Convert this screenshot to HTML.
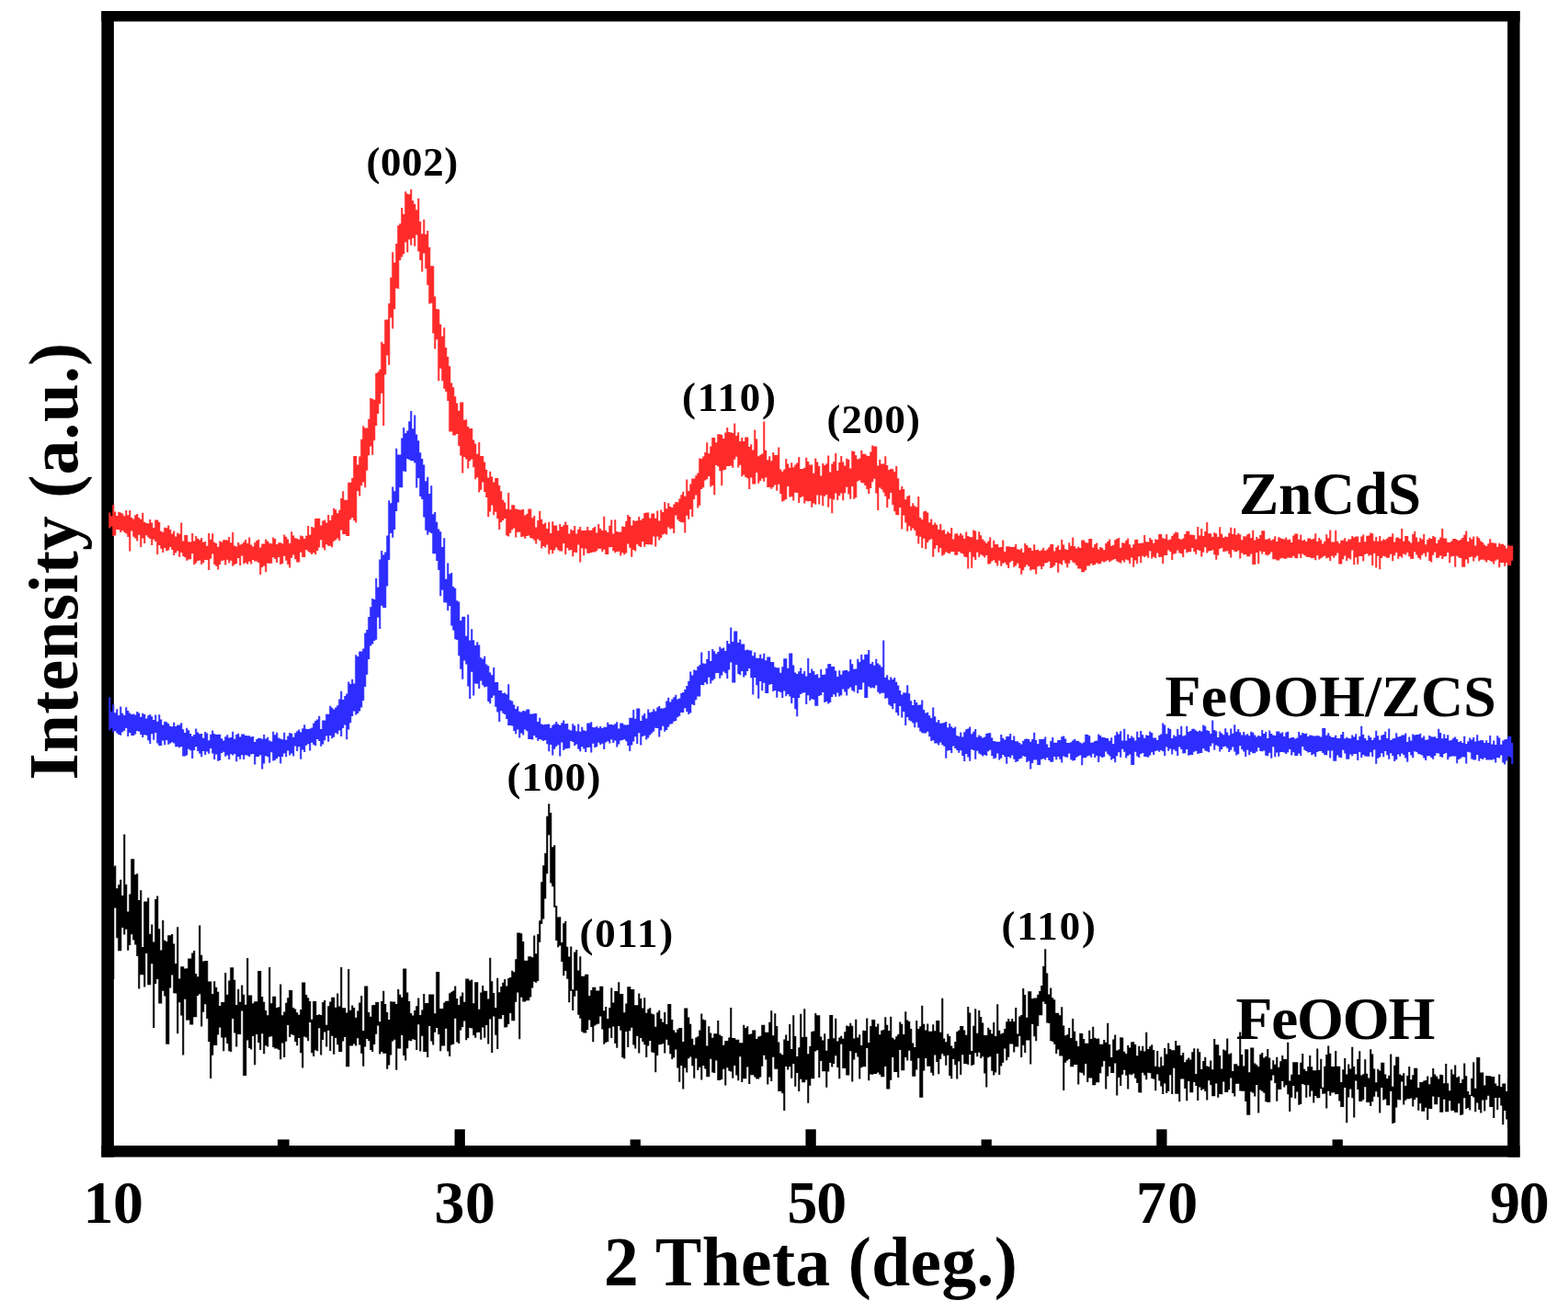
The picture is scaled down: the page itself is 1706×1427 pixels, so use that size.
<!DOCTYPE html>
<html><head><meta charset="utf-8"><title>XRD patterns</title>
<style>html,body{margin:0;padding:0;background:#fff;} svg{display:block;}</style></head>
<body>
<svg width="1706" height="1427" viewBox="0 0 1706 1427">
<rect x="0" y="0" width="1706" height="1427" fill="#fff"/>
<g fill="#000">
<rect x="110.4" y="12" width="1543.2" height="11.4"/>
<rect x="110.4" y="12" width="13.5" height="1246.5"/>
<rect x="1640.2" y="12" width="13.4" height="1246.5"/>
<rect x="110.4" y="1246" width="1543.2" height="12.5"/>
<rect x="302.1" y="1239.4" width="12.6" height="8"/>
<rect x="494.6" y="1228.3" width="11.3" height="19"/>
<rect x="685.6" y="1239.4" width="11.3" height="8"/>
<rect x="876.5" y="1228.3" width="11.3" height="19"/>
<rect x="1067.6" y="1239.4" width="11.3" height="8"/>
<rect x="1258.3" y="1228.3" width="11.3" height="19"/>
<rect x="1449.6" y="1239.4" width="11.3" height="8"/>
</g>
<path d="M118.3 574.4V557.4H120.3V561.2H122.3V549.1H124.3V556.4H126.3V561.0H128.3V556.7H130.3V557.6H132.3V558.4H134.3V561.2H136.3V555.1H138.3V560.3H140.3V555.0H142.3V562.9H144.3V564.4H146.3V560.3H148.3V559.1H150.3V563.0H152.3V564.7H154.3V557.8H156.3V567.8H158.3V569.1H160.3V569.3H162.3V565.1H164.3V568.5H166.3V574.1H168.3V565.5H170.3V565.5H172.3V568.1H174.3V577.7H176.3V578.7H178.3V573.8H180.3V574.3H182.3V571.4H184.3V576.1H186.3V580.4H188.3V577.6H190.3V583.4H192.3V579.4H194.3V580.7H196.3V568.5H198.3V588.4H200.3V581.9H202.3V581.9H204.3V589.2H206.3V589.5H208.3V580.1H210.3V588.6H212.3V583.1H214.3V585.8H216.3V587.3H218.3V585.1H220.3V589.8H222.3V588.9H224.3V593.8H226.3V580.1H228.3V586.7H230.3V580.3H232.3V589.7H234.3V590.9H236.3V594.7H238.3V588.6H240.3V589.4H242.3V587.2H244.3V587.2H246.3V587.4H248.3V584.0H250.3V590.3H252.3V579.1H254.3V593.5H256.3V594.5H258.3V590.0H260.3V592.6H262.3V591.6H264.3V589.5H266.3V587.0H268.3V591.0H270.3V584.5H272.3V592.4H274.3V594.4H276.3V590.3H278.3V588.0H280.3V586.8H282.3V595.6H284.3V591.6H286.3V591.4H288.3V586.4H290.3V588.5H292.3V590.7H294.3V591.2H296.3V584.4H298.3V585.9H300.3V592.0H302.3V590.3H304.3V590.3H306.3V591.3H308.3V581.6H310.3V583.8H312.3V586.6H314.3V591.1H316.3V578.3H318.3V582.4H320.3V585.3H322.3V585.7H324.3V586.8H326.3V582.4H328.3V583.3H330.3V585.9H332.3V582.7H334.3V572.0H336.3V581.8H338.3V573.1H340.3V573.7H342.3V564.0H344.3V564.0H346.3V563.8H348.3V571.4H350.3V566.4H352.3V565.6H354.3V568.4H356.3V560.0H358.3V565.9H360.3V560.4H362.3V552.8H364.3V554.3H366.3V558.2H368.3V554.7H370.3V542.0H372.3V534.2H374.3V543.8H376.3V543.8H378.3V524.7H380.3V524.7H382.3V520.1H384.3V496.0H386.3V496.0H388.3V505.5H390.3V496.4H392.3V477.8H394.3V463.3H396.3V465.6H398.3V465.6H400.3V455.7H402.3V433.0H404.3V433.7H406.3V434.8H408.3V406.0H410.3V404.5H412.3V401.7H414.3V371.8H416.3V373.7H418.3V347.7H420.3V347.5H422.3V330.1H424.3V301.8H426.3V274.2H428.3V285.4H430.3V264.9H432.3V245.2H434.3V243.2H436.3V226.1H438.3V233.0H440.3V208.2H442.3V210.7H444.3V211.3H446.3V206.0H448.3V218.2H450.3V221.9H452.3V228.2H454.3V215.7H456.3V241.1H458.3V254.2H460.3V238.8H462.3V254.8H464.3V251.1H466.3V268.9H468.3V289.2H470.3V289.2H472.3V322.6H474.3V335.9H476.3V336.6H478.3V352.8H480.3V365.7H482.3V356.2H484.3V377.9H486.3V388.0H488.3V398.3H490.3V416.6H492.3V421.2H494.3V431.2H496.3V438.4H498.3V446.8H500.3V437.4H502.3V437.4H504.3V457.0H506.3V456.3H508.3V464.1H510.3V466.0H512.3V465.9H514.3V478.5H516.3V482.6H518.3V493.8H520.3V481.0H522.3V495.9H524.3V495.9H526.3V502.4H528.3V511.1H530.3V519.4H532.3V512.8H534.3V518.6H536.3V524.4H538.3V519.9H540.3V520.0H542.3V528.0H544.3V534.3H546.3V543.8H548.3V546.5H550.3V553.8H552.3V536.0H554.3V554.2H556.3V549.3H558.3V549.3H560.3V553.5H562.3V553.9H564.3V554.5H566.3V554.6H568.3V554.0H570.3V560.6H572.3V559.0H574.3V553.6H576.3V553.6H578.3V563.2H580.3V561.0H582.3V573.5H584.3V566.0H586.3V555.8H588.3V564.7H590.3V570.1H592.3V568.4H594.3V574.9H596.3V567.7H598.3V580.1H600.3V567.3H602.3V571.5H604.3V571.5H606.3V577.3H608.3V570.1H610.3V572.9H612.3V571.2H614.3V567.6H616.3V571.0H618.3V580.5H620.3V575.7H622.3V577.0H624.3V571.9H626.3V580.6H628.3V575.8H630.3V572.9H632.3V576.9H634.3V577.1H636.3V577.1H638.3V573.1H640.3V576.7H642.3V576.7H644.3V574.2H646.3V573.0H648.3V579.4H650.3V570.0H652.3V574.9H654.3V576.9H656.3V561.7H658.3V577.1H660.3V579.0H662.3V571.7H664.3V565.5H666.3V580.6H668.3V565.3H670.3V578.1H672.3V578.8H674.3V578.6H676.3V572.5H678.3V573.0H680.3V566.8H682.3V559.9H684.3V562.0H686.3V571.4H688.3V566.0H690.3V566.7H692.3V566.2H694.3V562.1H696.3V565.7H698.3V564.0H700.3V558.1H702.3V557.6H704.3V557.6H706.3V563.5H708.3V558.5H710.3V558.5H712.3V563.7H714.3V555.6H716.3V566.4H718.3V554.6H720.3V557.1H722.3V546.0H724.3V553.2H726.3V547.3H728.3V551.1H730.3V552.0H732.3V548.6H734.3V545.9H736.3V546.2H738.3V542.5H740.3V538.2H742.3V534.8H744.3V539.8H746.3V521.6H748.3V534.1H750.3V526.4H752.3V520.4H754.3V520.6H756.3V517.2H758.3V514.6H760.3V498.6H762.3V499.1H764.3V496.6H766.3V492.0H768.3V481.3H770.3V493.2H772.3V485.6H774.3V476.1H776.3V476.1H778.3V481.3H780.3V472.3H782.3V472.3H784.3V473.1H786.3V476.9H788.3V470.4H790.3V465.0H792.3V469.9H794.3V470.3H796.3V470.9H798.3V460.4H800.3V473.9H802.3V470.3H804.3V480.0H806.3V475.9H808.3V479.9H810.3V475.6H812.3V475.6H814.3V486.1H816.3V483.3H818.3V489.6H820.3V467.5H822.3V477.5H824.3V496.2H826.3V494.8H828.3V493.6H830.3V458.5H832.3V489.7H834.3V500.2H836.3V496.2H838.3V501.3H840.3V492.1H842.3V495.1H844.3V495.1H846.3V486.6H848.3V510.5H850.3V512.7H852.3V510.6H854.3V499.0H856.3V504.6H858.3V508.8H860.3V503.2H862.3V508.3H864.3V505.5H866.3V503.5H868.3V497.1H870.3V510.0H872.3V510.0H874.3V508.7H876.3V497.7H878.3V502.0H880.3V505.4H882.3V505.4H884.3V514.8H886.3V498.6H888.3V502.5H890.3V507.0H892.3V517.5H894.3V503.9H896.3V505.9H898.3V504.2H900.3V495.6H902.3V513.4H904.3V504.5H906.3V502.0H908.3V492.9H910.3V512.1H912.3V503.1H914.3V496.0H916.3V502.4H918.3V506.5H920.3V498.7H922.3V499.7H924.3V509.6H926.3V490.5H928.3V491.0H930.3V495.3H932.3V499.5H934.3V498.6H936.3V489.7H938.3V493.8H940.3V493.8H942.3V495.5H944.3V495.9H946.3V491.4H948.3V484.6H950.3V485.4H952.3V485.4H954.3V506.6H956.3V499.9H958.3V504.4H960.3V504.5H962.3V496.3H964.3V505.9H966.3V511.1H968.3V509.8H970.3V510.2H972.3V513.0H974.3V506.9H976.3V520.3H978.3V532.7H980.3V529.1H982.3V532.0H984.3V543.2H986.3V539.8H988.3V538.8H990.3V550.8H992.3V547.3H994.3V550.2H996.3V551.5H998.3V540.1H1000.3V562.9H1002.3V565.0H1004.3V556.2H1006.3V555.7H1008.3V557.4H1010.3V568.2H1012.3V564.5H1014.3V570.8H1016.3V568.5H1018.3V570.7H1020.3V575.9H1022.3V570.0H1024.3V576.7H1026.3V576.2H1028.3V580.8H1030.3V578.3H1032.3V580.1H1034.3V574.1H1036.3V586.6H1038.3V580.4H1040.3V580.2H1042.3V582.5H1044.3V580.1H1046.3V582.3H1048.3V585.8H1050.3V578.5H1052.3V583.1H1054.3V584.0H1056.3V584.2H1058.3V576.6H1060.3V577.4H1062.3V586.9H1064.3V578.3H1066.3V582.2H1068.3V586.5H1070.3V588.4H1072.3V590.7H1074.3V588.5H1076.3V584.3H1078.3V595.8H1080.3V587.8H1082.3V592.0H1084.3V592.0H1086.3V595.3H1088.3V595.1H1090.3V587.5H1092.3V600.1H1094.3V594.2H1096.3V594.2H1098.3V594.7H1100.3V595.1H1102.3V594.7H1104.3V591.8H1106.3V597.2H1108.3V598.0H1110.3V596.4H1112.3V601.1H1114.3V591.0H1116.3V593.1H1118.3V595.5H1120.3V595.9H1122.3V599.1H1124.3V592.2H1126.3V598.3H1128.3V597.8H1130.3V599.2H1132.3V598.3H1134.3V595.7H1136.3V599.0H1138.3V597.6H1140.3V595.2H1142.3V591.9H1144.3V591.9H1146.3V599.5H1148.3V595.2H1150.3V593.3H1152.3V598.1H1154.3V587.1H1156.3V592.6H1158.3V597.2H1160.3V598.0H1162.3V590.2H1164.3V593.7H1166.3V584.4H1168.3V594.2H1170.3V596.4H1172.3V594.4H1174.3V595.9H1176.3V587.5H1178.3V587.6H1180.3V589.9H1182.3V590.4H1184.3V586.0H1186.3V586.0H1188.3V595.5H1190.3V591.9H1192.3V590.6H1194.3V597.6H1196.3V594.9H1198.3V596.0H1200.3V598.2H1202.3V590.9H1204.3V589.0H1206.3V586.4H1208.3V593.8H1210.3V592.7H1212.3V587.3H1214.3V585.9H1216.3V584.9H1218.3V595.7H1220.3V590.2H1222.3V590.7H1224.3V587.8H1226.3V585.5H1228.3V592.3H1230.3V595.7H1232.3V592.3H1234.3V587.1H1236.3V586.8H1238.3V591.0H1240.3V590.7H1242.3V590.6H1244.3V582.1H1246.3V589.2H1248.3V589.5H1250.3V585.1H1252.3V587.0H1254.3V590.8H1256.3V586.5H1258.3V587.1H1260.3V581.1H1262.3V581.1H1264.3V585.3H1266.3V585.9H1268.3V581.3H1270.3V587.2H1272.3V586.6H1274.3V583.1H1276.3V580.6H1278.3V578.6H1280.3V579.2H1282.3V585.9H1284.3V586.8H1286.3V585.5H1288.3V581.1H1290.3V577.8H1292.3V577.8H1294.3V581.5H1296.3V581.7H1298.3V582.0H1300.3V586.6H1302.3V572.9H1304.3V582.5H1306.3V575.0H1308.3V582.9H1310.3V577.9H1312.3V568.1H1314.3V580.2H1316.3V580.2H1318.3V584.1H1320.3V579.2H1322.3V580.2H1324.3V584.1H1326.3V573.2H1328.3V580.8H1330.3V584.8H1332.3V583.5H1334.3V584.0H1336.3V579.7H1338.3V573.7H1340.3V581.1H1342.3V574.6H1344.3V581.8H1346.3V580.1H1348.3V581.2H1350.3V587.2H1352.3V583.3H1354.3V583.5H1356.3V581.3H1358.3V580.3H1360.3V585.1H1362.3V576.8H1364.3V587.6H1366.3V583.9H1368.3V586.1H1370.3V582.0H1372.3V577.3H1374.3V577.3H1376.3V586.8H1378.3V586.2H1380.3V585.6H1382.3V587.7H1384.3V586.6H1386.3V583.3H1388.3V589.0H1390.3V584.2H1392.3V585.3H1394.3V585.9H1396.3V586.6H1398.3V584.5H1400.3V587.2H1402.3V586.4H1404.3V590.1H1406.3V582.5H1408.3V580.6H1410.3V580.6H1412.3V586.8H1414.3V581.5H1416.3V588.0H1418.3V587.1H1420.3V588.9H1422.3V585.4H1424.3V585.6H1426.3V586.8H1428.3V585.7H1430.3V580.3H1432.3V589.0H1434.3V585.0H1436.3V587.2H1438.3V591.4H1440.3V588.7H1442.3V581.2H1444.3V585.2H1446.3V576.5H1448.3V589.5H1450.3V589.6H1452.3V576.8H1454.3V588.7H1456.3V591.0H1458.3V587.7H1460.3V587.4H1462.3V585.2H1464.3V588.9H1466.3V586.4H1468.3V586.4H1470.3V583.0H1472.3V584.4H1474.3V583.6H1476.3V583.6H1478.3V589.7H1480.3V583.4H1482.3V581.5H1484.3V589.3H1486.3V582.7H1488.3V582.4H1490.3V579.6H1492.3V580.3H1494.3V588.4H1496.3V584.0H1498.3V588.8H1500.3V583.1H1502.3V588.3H1504.3V586.5H1506.3V587.3H1508.3V585.4H1510.3V583.7H1512.3V583.8H1514.3V580.2H1516.3V589.5H1518.3V584.8H1520.3V584.5H1522.3V586.0H1524.3V574.9H1526.3V588.7H1528.3V583.1H1530.3V583.0H1532.3V588.5H1534.3V590.4H1536.3V581.1H1538.3V577.9H1540.3V584.6H1542.3V589.2H1544.3V584.9H1546.3V586.6H1548.3V581.0H1550.3V592.2H1552.3V587.1H1554.3V585.1H1556.3V586.1H1558.3V583.0H1560.3V584.2H1562.3V591.1H1564.3V587.2H1566.3V584.4H1568.3V574.9H1570.3V585.4H1572.3V585.4H1574.3V589.7H1576.3V589.9H1578.3V588.4H1580.3V586.0H1582.3V585.9H1584.3V586.9H1586.3V588.1H1588.3V586.7H1590.3V585.0H1592.3V581.7H1594.3V577.5H1596.3V588.9H1598.3V584.4H1600.3V586.4H1602.3V583.5H1604.3V593.5H1606.3V583.5H1608.3V585.3H1610.3V588.5H1612.3V590.0H1614.3V592.5H1616.3V594.1H1618.3V591.3H1620.3V586.2H1622.3V590.2H1624.3V590.5H1626.3V590.9H1628.3V594.7H1630.3V590.8H1632.3V592.0H1634.3V591.7H1636.3V593.6H1638.3V596.4H1640.3V592.7H1642.3V593.8H1644.3V593.5H1646.3V609.8H1644.3V615.1H1642.3V614.9H1640.3V612.3H1638.3V615.8H1636.3V611.9H1634.3V611.9H1632.3V617.2H1630.3V608.4H1628.3V609.7H1626.3V613.5H1624.3V611.0H1622.3V610.0H1620.3V609.0H1618.3V611.6H1616.3V609.5H1614.3V608.6H1612.3V608.7H1610.3V610.3H1608.3V604.6H1606.3V606.4H1604.3V610.5H1602.3V605.6H1600.3V606.0H1598.3V612.7H1596.3V608.4H1594.3V616.7H1592.3V616.7H1590.3V607.0H1588.3V606.6H1586.3V604.8H1584.3V616.7H1582.3V604.7H1580.3V605.6H1578.3V612.3H1576.3V600.9H1574.3V604.9H1572.3V605.4H1570.3V608.0H1568.3V604.3H1566.3V606.4H1564.3V606.9H1562.3V600.5H1560.3V603.7H1558.3V611.6H1556.3V609.9H1554.3V600.4H1552.3V605.4H1550.3V601.8H1548.3V603.8H1546.3V608.5H1544.3V606.7H1542.3V603.5H1540.3V600.2H1538.3V607.7H1536.3V608.0H1534.3V605.2H1532.3V601.0H1530.3V603.4H1528.3V602.6H1526.3V606.6H1524.3V605.1H1522.3V607.8H1520.3V601.1H1518.3V604.2H1516.3V610.2H1514.3V602.7H1512.3V606.6H1510.3V606.9H1508.3V605.6H1506.3V604.8H1504.3V607.1H1502.3V619.2H1500.3V604.7H1498.3V617.6H1496.3V601.8H1494.3V614.9H1492.3V603.8H1490.3V604.5H1488.3V602.1H1486.3V603.0H1484.3V610.3H1482.3V605.0H1480.3V605.0H1478.3V613.7H1476.3V606.3H1474.3V614.2H1472.3V598.5H1470.3V608.4H1468.3V607.0H1466.3V610.1H1464.3V604.4H1462.3V608.2H1460.3V613.4H1458.3V613.4H1456.3V601.5H1454.3V604.3H1452.3V606.7H1450.3V604.5H1448.3V610.0H1446.3V606.6H1444.3V607.2H1442.3V604.6H1440.3V605.7H1438.3V607.3H1436.3V608.6H1434.3V604.1H1432.3V609.2H1430.3V606.7H1428.3V607.3H1426.3V606.2H1424.3V606.0H1422.3V605.6H1420.3V604.1H1418.3V602.4H1416.3V606.9H1414.3V602.5H1412.3V607.3H1410.3V606.9H1408.3V604.8H1406.3V606.7H1404.3V606.7H1402.3V606.5H1400.3V607.7H1398.3V607.7H1396.3V606.7H1394.3V607.6H1392.3V609.6H1390.3V609.6H1388.3V608.2H1386.3V608.2H1384.3V600.6H1382.3V602.7H1380.3V604.3H1378.3V603.6H1376.3V600.0H1374.3V602.5H1372.3V599.5H1370.3V613.2H1368.3V601.0H1366.3V614.0H1364.3V614.0H1362.3V602.6H1360.3V605.2H1358.3V605.2H1356.3V603.1H1354.3V603.3H1352.3V601.6H1350.3V607.5H1348.3V598.8H1346.3V600.2H1344.3V599.7H1342.3V598.1H1340.3V606.4H1338.3V602.5H1336.3V599.2H1334.3V599.7H1332.3V599.9H1330.3V596.0H1328.3V597.0H1326.3V604.0H1324.3V608.7H1322.3V603.3H1320.3V598.2H1318.3V599.1H1316.3V599.6H1314.3V601.4H1312.3V595.2H1310.3V600.8H1308.3V605.6H1306.3V599.1H1304.3V597.9H1302.3V602.7H1300.3V599.9H1298.3V595.9H1296.3V600.3H1294.3V600.3H1292.3V601.2H1290.3V597.5H1288.3V606.0H1286.3V602.2H1284.3V601.5H1282.3V598.4H1280.3V601.8H1278.3V602.8H1276.3V609.1H1274.3V600.1H1272.3V598.2H1270.3V604.0H1268.3V604.0H1266.3V613.0H1264.3V605.7H1262.3V606.0H1260.3V601.6H1258.3V607.0H1256.3V605.6H1254.3V607.5H1252.3V599.3H1250.3V606.7H1248.3V604.4H1246.3V606.0H1244.3V604.8H1242.3V612.3H1240.3V605.2H1238.3V613.2H1236.3V609.5H1234.3V616.7H1232.3V606.4H1230.3V613.0H1228.3V609.5H1226.3V608.5H1224.3V611.4H1222.3V609.4H1220.3V612.6H1218.3V611.4H1216.3V610.6H1214.3V608.0H1212.3V608.8H1210.3V609.7H1208.3V611.3H1206.3V609.3H1204.3V610.5H1202.3V611.6H1200.3V610.5H1198.3V612.9H1196.3V613.4H1194.3V612.2H1192.3V614.2H1190.3V614.7H1188.3V613.1H1186.3V615.6H1184.3V615.6H1182.3V620.3H1180.3V622.2H1178.3V622.2H1176.3V618.6H1174.3V618.6H1172.3V614.9H1170.3V612.5H1168.3V611.4H1166.3V609.3H1164.3V612.8H1162.3V617.2H1160.3V612.8H1158.3V609.4H1156.3V614.6H1154.3V612.9H1152.3V622.7H1150.3V612.1H1148.3V615.2H1146.3V617.1H1144.3V618.0H1142.3V610.7H1140.3V611.9H1138.3V612.6H1136.3V616.0H1134.3V619.0H1132.3V615.6H1130.3V616.3H1128.3V624.6H1126.3V619.4H1124.3V619.3H1122.3V620.4H1120.3V616.0H1118.3V614.3H1116.3V616.7H1114.3V620.3H1112.3V624.8H1110.3V618.1H1108.3V612.7H1106.3V615.3H1104.3V616.8H1102.3V610.0H1100.3V611.6H1098.3V618.1H1096.3V614.6H1094.3V611.8H1092.3V612.7H1090.3V615.8H1088.3V609.8H1086.3V615.5H1084.3V612.2H1082.3V609.2H1080.3V610.4H1078.3V613.2H1076.3V613.4H1074.3V604.0H1072.3V606.5H1070.3V604.6H1068.3V603.2H1066.3V605.9H1064.3V600.7H1062.3V608.9H1060.3V605.8H1058.3V617.8H1056.3V600.6H1054.3V618.4H1052.3V606.1H1050.3V605.5H1048.3V602.2H1046.3V601.4H1044.3V599.9H1042.3V603.7H1040.3V603.7H1038.3V600.1H1036.3V600.0H1034.3V602.1H1032.3V601.5H1030.3V600.5H1028.3V603.3H1026.3V604.4H1024.3V595.9H1022.3V600.8H1020.3V593.0H1018.3V596.7H1016.3V605.7H1014.3V586.2H1012.3V587.5H1010.3V590.1H1008.3V597.3H1006.3V585.7H1004.3V596.1H1002.3V583.8H1000.3V591.6H998.3V582.8H996.3V576.9H994.3V574.6H992.3V577.1H990.3V572.3H988.3V577.8H986.3V568.6H984.3V560.5H982.3V575.4H980.3V552.1H978.3V560.3H976.3V560.1H974.3V556.2H972.3V548.9H970.3V536.0H968.3V542.8H966.3V552.1H964.3V539.7H962.3V535.6H960.3V532.3H958.3V530.5H956.3V554.9H954.3V536.5H952.3V520.7H950.3V524.2H948.3V531.1H946.3V536.9H944.3V532.1H942.3V528.1H940.3V525.5H938.3V525.0H936.3V522.4H934.3V523.4H932.3V541.2H930.3V542.7H928.3V529.1H926.3V542.8H924.3V537.4H922.3V529.8H920.3V536.3H918.3V544.3H916.3V536.5H914.3V538.9H912.3V544.1H910.3V536.4H908.3V543.2H906.3V558.2H904.3V542.3H902.3V551.7H900.3V537.9H898.3V539.7H896.3V550.3H894.3V538.8H892.3V548.6H890.3V538.4H888.3V548.8H886.3V547.6H884.3V551.8H882.3V544.9H880.3V545.5H878.3V544.8H876.3V547.4H874.3V540.0H872.3V541.1H870.3V547.0H868.3V535.9H866.3V535.7H864.3V544.5H862.3V540.2H860.3V540.4H858.3V528.9H856.3V543.0H854.3V544.4H852.3V545.4H850.3V537.2H848.3V526.7H846.3V533.8H844.3V527.5H842.3V529.8H840.3V531.7H838.3V529.9H836.3V529.9H834.3V519.3H832.3V523.7H830.3V520.5H828.3V522.9H826.3V525.8H824.3V514.1H822.3V526.5H820.3V526.5H818.3V519.6H816.3V531.9H814.3V520.2H812.3V518.9H810.3V516.4H808.3V518.2H806.3V505.8H804.3V508.4H802.3V496.7H800.3V499.7H798.3V508.7H796.3V506.6H794.3V507.1H792.3V507.1H790.3V510.8H788.3V511.5H786.3V528.3H784.3V512.3H782.3V507.5H780.3V505.9H778.3V538.3H776.3V527.9H774.3V529.6H772.3V518.0H770.3V521.2H768.3V522.6H766.3V530.3H764.3V532.0H762.3V549.8H760.3V552.5H758.3V538.6H756.3V543.1H754.3V562.1H752.3V553.9H750.3V564.7H748.3V560.7H746.3V579.4H744.3V568.2H742.3V568.2H740.3V567.0H738.3V565.0H736.3V560.4H734.3V580.0H732.3V574.8H730.3V575.5H728.3V573.6H726.3V581.5H724.3V580.5H722.3V581.6H720.3V585.1H718.3V587.5H716.3V583.5H714.3V594.5H712.3V583.4H710.3V592.4H708.3V592.3H706.3V592.2H704.3V592.1H702.3V594.7H700.3V589.0H698.3V595.0H696.3V593.9H694.3V592.1H692.3V599.4H690.3V597.9H688.3V605.7H686.3V595.7H684.3V591.4H682.3V601.6H680.3V603.2H678.3V601.3H676.3V604.4H674.3V599.7H672.3V600.0H670.3V601.3H668.3V599.3H666.3V594.9H664.3V595.3H662.3V603.0H660.3V603.0H658.3V597.8H656.3V600.1H654.3V596.7H652.3V596.8H650.3V599.2H648.3V600.5H646.3V600.4H644.3V600.9H642.3V601.8H640.3V601.8H638.3V596.8H636.3V604.3H634.3V596.2H632.3V611.4H630.3V592.6H628.3V601.0H626.3V600.7H624.3V605.2H622.3V598.0H620.3V598.8H618.3V595.9H616.3V602.9H614.3V591.0H612.3V599.6H610.3V599.6H608.3V598.3H606.3V595.5H604.3V598.4H602.3V602.0H600.3V598.0H598.3V602.8H596.3V592.5H594.3V595.6H592.3V594.0H590.3V596.6H588.3V588.1H586.3V586.5H584.3V591.4H582.3V587.5H580.3V585.8H578.3V585.1H576.3V582.4H574.3V583.0H572.3V585.8H570.3V583.4H568.3V583.9H566.3V578.8H564.3V578.7H562.3V584.4H560.3V574.4H558.3V576.2H556.3V579.7H554.3V583.6H552.3V582.5H550.3V563.9H548.3V565.9H546.3V567.9H544.3V576.0H542.3V564.1H540.3V556.7H538.3V560.3H536.3V549.4H534.3V556.4H532.3V562.3H530.3V540.9H528.3V535.1H526.3V524.5H524.3V532.8H522.3V535.5H520.3V519.3H518.3V521.2H516.3V508.2H514.3V499.4H512.3V501.4H510.3V509.6H508.3V499.5H506.3V497.1H504.3V514.4H502.3V495.5H500.3V484.9H498.3V471.9H496.3V473.5H494.3V473.5H492.3V469.4H490.3V469.4H488.3V435.9H486.3V426.0H484.3V422.7H482.3V414.3H480.3V400.8H478.3V414.2H476.3V369.3H474.3V379.6H472.3V362.5H470.3V329.7H468.3V330.6H466.3V309.9H464.3V292.3H462.3V275.6H460.3V295.4H458.3V283.1H456.3V273.5H454.3V255.6H452.3V267.8H450.3V259.1H448.3V266.7H446.3V260.5H444.3V274.4H442.3V263.6H440.3V276.3H438.3V279.6H436.3V283.0H434.3V314.1H432.3V313.4H430.3V336.2H428.3V357.6H426.3V345.5H424.3V397.0H422.3V386.5H420.3V407.6H418.3V463.1H416.3V427.7H414.3V439.3H412.3V450.0H410.3V462.9H408.3V479.1H406.3V494.7H404.3V485.5H402.3V495.3H400.3V511.7H398.3V530.2H396.3V524.5H394.3V528.3H392.3V539.6H390.3V534.0H388.3V568.6H386.3V566.3H384.3V563.1H382.3V565.2H380.3V582.9H378.3V582.9H376.3V581.0H374.3V581.0H372.3V576.4H370.3V587.9H368.3V585.4H366.3V587.3H364.3V588.8H362.3V595.2H360.3V593.8H358.3V593.8H356.3V592.3H354.3V598.5H352.3V595.7H350.3V587.3H348.3V595.4H346.3V599.1H344.3V603.1H342.3V601.2H340.3V603.1H338.3V601.2H336.3V599.7H334.3V598.0H332.3V606.0H330.3V606.0H328.3V600.7H326.3V611.4H324.3V611.4H322.3V608.3H320.3V603.6H318.3V606.8H316.3V617.4H314.3V614.0H312.3V609.7H310.3V604.8H308.3V613.1H306.3V613.9H304.3V605.9H302.3V612.1H300.3V608.0H298.3V606.2H296.3V612.7H294.3V612.7H292.3V612.7H290.3V622.3H288.3V615.6H286.3V616.9H284.3V625.0H282.3V611.9H280.3V610.5H278.3V610.5H276.3V609.0H274.3V613.4H272.3V610.8H270.3V613.8H268.3V612.1H266.3V613.2H264.3V604.5H262.3V614.9H260.3V606.9H258.3V612.9H256.3V613.9H254.3V615.7H252.3V609.7H250.3V612.5H248.3V608.7H246.3V614.4H244.3V609.5H242.3V609.9H240.3V614.1H238.3V619.4H236.3V615.7H234.3V613.9H232.3V602.6H230.3V607.7H228.3V619.9H226.3V609.0H224.3V609.0H222.3V611.9H220.3V614.1H218.3V609.4H216.3V609.9H214.3V612.6H212.3V614.2H210.3V602.0H208.3V608.2H206.3V608.4H204.3V609.8H202.3V606.3H200.3V605.0H198.3V601.1H196.3V605.7H194.3V599.3H192.3V601.2H190.3V604.1H188.3V597.9H186.3V595.1H184.3V598.4H182.3V599.3H180.3V595.9H178.3V600.9H176.3V596.8H174.3V593.1H172.3V603.1H170.3V589.1H168.3V586.8H166.3V592.9H164.3V585.9H162.3V584.6H160.3V582.2H158.3V591.0H156.3V585.4H154.3V595.1H152.3V581.8H150.3V588.4H148.3V585.6H146.3V583.7H144.3V577.5H142.3V599.4H140.3V583.9H138.3V580.4H136.3V578.9H134.3V577.0H132.3V578.9H130.3V576.3H128.3V575.9H126.3V582.6H124.3V583.0H122.3V572.8H120.3V574.4H118.3Z" fill="#ff2b2b"/>
<path d="M118.3 794.4V758.2H120.3V773.8H122.3V766.3H124.3V775.2H126.3V771.2H128.3V777.9H130.3V768.6H132.3V775.7H134.3V778.0H136.3V769.3H138.3V772.9H140.3V775.4H142.3V777.0H144.3V776.4H146.3V777.6H148.3V774.0H150.3V775.5H152.3V779.7H154.3V775.8H156.3V777.1H158.3V781.5H160.3V778.3H162.3V776.9H164.3V779.2H166.3V783.1H168.3V777.4H170.3V784.7H172.3V777.3H174.3V782.5H176.3V788.4H178.3V784.7H180.3V785.2H182.3V787.0H184.3V789.8H186.3V790.3H188.3V785.7H190.3V790.0H192.3V788.6H194.3V788.6H196.3V786.3H198.3V793.3H200.3V796.9H202.3V791.7H204.3V794.2H206.3V797.9H208.3V800.7H210.3V798.9H212.3V792.5H214.3V796.4H216.3V798.2H218.3V797.9H220.3V802.8H222.3V796.1H224.3V797.6H226.3V805.3H228.3V798.7H230.3V794.4H232.3V797.9H234.3V798.9H236.3V798.7H238.3V798.8H240.3V803.2H242.3V805.4H244.3V801.3H246.3V799.3H248.3V802.4H250.3V802.1H252.3V795.8H254.3V803.8H256.3V798.9H258.3V797.8H260.3V801.6H262.3V798.5H264.3V798.5H266.3V799.9H268.3V800.2H270.3V800.2H272.3V801.5H274.3V801.0H276.3V807.1H278.3V804.1H280.3V802.8H282.3V802.7H284.3V803.7H286.3V798.9H288.3V803.4H290.3V801.7H292.3V805.4H294.3V806.4H296.3V795.7H298.3V799.3H300.3V796.8H302.3V802.6H304.3V803.4H306.3V804.2H308.3V796.7H310.3V804.8H312.3V800.6H314.3V797.1H316.3V797.8H318.3V801.7H320.3V797.2H322.3V795.3H324.3V793.4H326.3V796.2H328.3V792.2H330.3V788.2H332.3V792.7H334.3V792.9H336.3V792.4H338.3V791.5H340.3V786.4H342.3V784.0H344.3V782.4H346.3V778.8H348.3V793.0H350.3V783.6H352.3V783.6H354.3V776.8H356.3V776.8H358.3V767.8H360.3V769.8H362.3V771.6H364.3V769.6H366.3V767.3H368.3V760.4H370.3V751.7H372.3V761.1H374.3V757.0H376.3V754.4H378.3V741.4H380.3V744.1H382.3V738.7H384.3V743.6H386.3V712.2H388.3V714.0H390.3V708.5H392.3V708.5H394.3V705.6H396.3V688.6H398.3V684.9H400.3V670.9H402.3V660.3H404.3V651.0H406.3V652.1H408.3V628.9H410.3V638.7H412.3V608.4H414.3V599.1H416.3V603.5H418.3V600.4H420.3V582.4H422.3V544.2H424.3V547.2H426.3V529.5H428.3V534.3H430.3V487.8H432.3V494.4H434.3V494.4H436.3V476.5H438.3V464.9H440.3V471.3H442.3V468.4H444.3V458.3H446.3V447.0H448.3V466.2H450.3V451.6H452.3V472.6H454.3V479.2H456.3V492.2H458.3V498.9H460.3V505.6H462.3V523.2H464.3V518.8H466.3V537.0H468.3V528.3H470.3V559.2H472.3V556.9H474.3V567.8H476.3V575.6H478.3V578.2H480.3V595.0H482.3V585.2H484.3V629.7H486.3V612.5H488.3V624.2H490.3V623.1H492.3V638.1H494.3V639.7H496.3V653.3H498.3V654.6H500.3V675.1H502.3V670.7H504.3V670.7H506.3V691.7H508.3V668.4H510.3V696.5H512.3V684.3H514.3V696.2H516.3V702.0H518.3V698.2H520.3V701.6H522.3V715.3H524.3V716.8H526.3V713.7H528.3V722.5H530.3V724.3H532.3V731.5H534.3V734.3H536.3V726.0H538.3V741.9H540.3V741.9H542.3V750.9H544.3V751.1H546.3V753.9H548.3V753.4H550.3V755.3H552.3V744.3H554.3V761.6H556.3V762.4H558.3V766.6H560.3V771.0H562.3V768.2H564.3V773.8H566.3V774.4H568.3V773.1H570.3V773.4H572.3V771.5H574.3V771.5H576.3V776.4H578.3V776.4H580.3V776.0H582.3V776.0H584.3V785.1H586.3V780.8H588.3V787.6H590.3V788.2H592.3V787.8H594.3V787.8H596.3V787.4H598.3V791.7H600.3V788.7H602.3V787.5H604.3V784.9H606.3V787.6H608.3V788.8H610.3V786.2H612.3V783.6H614.3V787.2H616.3V786.9H618.3V793.6H620.3V794.5H622.3V787.3H624.3V789.2H626.3V795.2H628.3V787.6H630.3V795.7H632.3V790.8H634.3V794.2H636.3V795.0H638.3V786.6H640.3V786.6H642.3V785.3H644.3V790.9H646.3V791.2H648.3V790.0H650.3V791.7H652.3V789.9H654.3V791.9H656.3V790.7H658.3V790.7H660.3V785.7H662.3V788.0H664.3V788.0H666.3V788.5H668.3V787.3H670.3V785.3H672.3V792.5H674.3V786.6H676.3V786.6H678.3V788.3H680.3V788.6H682.3V788.3H684.3V780.7H686.3V780.7H688.3V772.1H690.3V781.8H692.3V770.4H694.3V770.4H696.3V783.9H698.3V778.2H700.3V775.9H702.3V781.4H704.3V771.6H706.3V775.0H708.3V774.3H710.3V771.3H712.3V773.4H714.3V769.6H716.3V767.9H718.3V770.4H720.3V770.5H722.3V769.7H724.3V762.5H726.3V758.7H728.3V763.4H730.3V760.5H732.3V758.2H734.3V755.7H736.3V760.5H738.3V759.4H740.3V753.9H742.3V753.1H744.3V750.0H746.3V746.1H748.3V740.7H750.3V730.6H752.3V734.4H754.3V728.4H756.3V729.2H758.3V724.9H760.3V723.3H762.3V709.4H764.3V721.6H766.3V721.8H768.3V717.1H770.3V707.9H772.3V719.0H774.3V706.0H776.3V708.2H778.3V711.2H780.3V709.1H782.3V703.4H784.3V705.6H786.3V704.6H788.3V708.1H790.3V697.1H792.3V700.2H794.3V682.6H796.3V697.9H798.3V686.5H800.3V686.5H802.3V699.1H804.3V695.6H806.3V700.4H808.3V700.5H810.3V707.2H812.3V706.5H814.3V707.3H816.3V707.5H818.3V713.3H820.3V709.5H822.3V715.7H824.3V715.7H826.3V711.7H828.3V716.3H830.3V710.8H832.3V718.2H834.3V714.6H836.3V714.6H838.3V720.0H840.3V720.0H842.3V725.6H844.3V726.2H846.3V726.2H848.3V731.8H850.3V725.2H852.3V716.3H854.3V716.3H856.3V726.8H858.3V710.4H860.3V710.4H862.3V723.6H864.3V731.6H866.3V732.9H868.3V730.2H870.3V726.6H872.3V732.7H874.3V730.0H876.3V735.6H878.3V715.9H880.3V731.9H882.3V727.5H884.3V730.0H886.3V733.8H888.3V733.3H890.3V737.3H892.3V727.9H894.3V734.0H896.3V733.4H898.3V727.1H900.3V722.3H902.3V722.1H904.3V725.0H906.3V725.0H908.3V729.5H910.3V735.9H912.3V729.2H914.3V733.8H916.3V729.4H918.3V729.1H920.3V729.0H922.3V730.3H924.3V717.2H926.3V722.3H928.3V727.8H930.3V727.6H932.3V716.8H934.3V720.0H936.3V711.9H938.3V717.4H940.3V711.8H942.3V711.8H944.3V707.0H946.3V722.0H948.3V720.1H950.3V723.8H952.3V716.7H954.3V721.4H956.3V723.3H958.3V725.6H960.3V696.4H962.3V736.8H964.3V734.2H966.3V739.4H968.3V736.4H970.3V739.0H972.3V737.0H974.3V741.7H976.3V745.4H978.3V751.0H980.3V755.5H982.3V753.2H984.3V753.5H986.3V745.3H988.3V754.2H990.3V762.2H992.3V767.0H994.3V761.1H996.3V764.1H998.3V766.7H1000.3V766.6H1002.3V761.6H1004.3V772.0H1006.3V775.5H1008.3V774.8H1010.3V778.3H1012.3V781.0H1014.3V769.5H1016.3V779.3H1018.3V785.6H1020.3V782.9H1022.3V786.7H1024.3V786.6H1026.3V786.1H1028.3V785.0H1030.3V791.2H1032.3V787.1H1034.3V790.2H1036.3V791.9H1038.3V790.6H1040.3V800.0H1042.3V801.1H1044.3V796.6H1046.3V801.5H1048.3V796.3H1050.3V793.3H1052.3V792.4H1054.3V790.5H1056.3V798.3H1058.3V795.7H1060.3V792.9H1062.3V801.8H1064.3V799.6H1066.3V800.7H1068.3V802.4H1070.3V801.5H1072.3V798.0H1074.3V797.2H1076.3V797.2H1078.3V802.6H1080.3V806.0H1082.3V806.6H1084.3V806.7H1086.3V806.8H1088.3V799.0H1090.3V802.8H1092.3V804.6H1094.3V801.1H1096.3V801.1H1098.3V798.0H1100.3V805.1H1102.3V800.5H1104.3V806.2H1106.3V806.2H1108.3V807.9H1110.3V809.6H1112.3V805.7H1114.3V803.8H1116.3V803.5H1118.3V803.9H1120.3V806.7H1122.3V804.1H1124.3V796.7H1126.3V804.9H1128.3V808.9H1130.3V803.9H1132.3V804.0H1134.3V804.0H1136.3V801.4H1138.3V809.4H1140.3V812.9H1142.3V806.0H1144.3V802.0H1146.3V807.8H1148.3V807.8H1150.3V804.9H1152.3V805.0H1154.3V801.2H1156.3V800.5H1158.3V803.4H1160.3V808.1H1162.3V808.1H1164.3V807.2H1166.3V805.3H1168.3V803.8H1170.3V805.7H1172.3V806.1H1174.3V807.6H1176.3V808.6H1178.3V807.3H1180.3V798.8H1182.3V799.1H1184.3V800.2H1186.3V807.8H1188.3V807.6H1190.3V805.9H1192.3V805.4H1194.3V798.6H1196.3V800.0H1198.3V802.1H1200.3V802.1H1202.3V802.7H1204.3V803.0H1206.3V805.7H1208.3V802.3H1210.3V809.1H1212.3V799.8H1214.3V796.1H1216.3V798.6H1218.3V795.3H1220.3V805.6H1222.3V792.8H1224.3V805.5H1226.3V798.8H1228.3V803.1H1230.3V800.6H1232.3V802.3H1234.3V805.4H1236.3V795.7H1238.3V801.9H1240.3V795.0H1242.3V799.2H1244.3V802.7H1246.3V799.4H1248.3V799.9H1250.3V795.5H1252.3V797.0H1254.3V802.5H1256.3V802.6H1258.3V805.0H1260.3V799.8H1262.3V798.5H1264.3V786.6H1266.3V788.5H1268.3V798.3H1270.3V791.7H1272.3V792.9H1274.3V802.9H1276.3V799.6H1278.3V801.1H1280.3V793.0H1282.3V799.2H1284.3V789.8H1286.3V800.5H1288.3V799.7H1290.3V789.8H1292.3V796.1H1294.3V795.0H1296.3V792.8H1298.3V792.8H1300.3V794.6H1302.3V795.7H1304.3V794.6H1306.3V795.5H1308.3V788.6H1310.3V789.8H1312.3V794.3H1314.3V795.0H1316.3V797.9H1318.3V783.6H1320.3V794.0H1322.3V795.2H1324.3V802.0H1326.3V795.5H1328.3V797.4H1330.3V799.3H1332.3V792.3H1334.3V796.6H1336.3V799.7H1338.3V792.6H1340.3V797.8H1342.3V788.3H1344.3V795.8H1346.3V792.9H1348.3V796.4H1350.3V799.6H1352.3V796.1H1354.3V799.5H1356.3V798.2H1358.3V800.2H1360.3V795.8H1362.3V796.7H1364.3V799.5H1366.3V801.6H1368.3V800.1H1370.3V800.7H1372.3V793.9H1374.3V798.1H1376.3V795.9H1378.3V803.0H1380.3V794.6H1382.3V798.1H1384.3V799.4H1386.3V800.1H1388.3V795.5H1390.3V795.5H1392.3V797.5H1394.3V796.6H1396.3V800.9H1398.3V796.6H1400.3V795.8H1402.3V802.9H1404.3V801.9H1406.3V801.9H1408.3V803.4H1410.3V802.4H1412.3V795.9H1414.3V799.4H1416.3V797.1H1418.3V798.1H1420.3V797.7H1422.3V800.9H1424.3V799.6H1426.3V799.8H1428.3V800.6H1430.3V800.6H1432.3V800.1H1434.3V800.6H1436.3V801.5H1438.3V791.9H1440.3V791.9H1442.3V799.8H1444.3V797.2H1446.3V800.4H1448.3V802.1H1450.3V801.7H1452.3V799.7H1454.3V802.9H1456.3V802.9H1458.3V799.0H1460.3V796.1H1462.3V803.3H1464.3V801.7H1466.3V802.9H1468.3V803.2H1470.3V799.5H1472.3V801.4H1474.3V798.3H1476.3V804.9H1478.3V800.9H1480.3V789.7H1482.3V799.1H1484.3V802.9H1486.3V805.3H1488.3V800.1H1490.3V802.1H1492.3V804.9H1494.3V802.6H1496.3V794.7H1498.3V800.3H1500.3V804.7H1502.3V799.8H1504.3V799.0H1506.3V795.8H1508.3V803.1H1510.3V792.4H1512.3V804.9H1514.3V803.4H1516.3V802.9H1518.3V797.3H1520.3V801.5H1522.3V801.1H1524.3V799.5H1526.3V799.5H1528.3V797.4H1530.3V807.1H1532.3V801.5H1534.3V805.4H1536.3V798.5H1538.3V799.5H1540.3V799.0H1542.3V799.0H1544.3V797.7H1546.3V802.5H1548.3V800.6H1550.3V804.7H1552.3V804.5H1554.3V799.9H1556.3V801.3H1558.3V801.6H1560.3V801.3H1562.3V803.0H1564.3V792.8H1566.3V797.0H1568.3V803.2H1570.3V798.6H1572.3V802.9H1574.3V799.2H1576.3V805.5H1578.3V804.7H1580.3V802.7H1582.3V801.5H1584.3V804.1H1586.3V807.1H1588.3V805.9H1590.3V808.0H1592.3V800.8H1594.3V808.9H1596.3V806.3H1598.3V802.5H1600.3V804.6H1602.3V801.9H1604.3V806.5H1606.3V799.3H1608.3V805.7H1610.3V805.0H1612.3V805.2H1614.3V808.1H1616.3V805.3H1618.3V808.1H1620.3V800.0H1622.3V809.5H1624.3V805.4H1626.3V809.9H1628.3V800.2H1630.3V802.5H1632.3V809.7H1634.3V805.6H1636.3V804.3H1638.3V803.9H1640.3V800.7H1642.3V800.7H1644.3V808.0H1646.3V831.0H1644.3V823.8H1642.3V822.6H1640.3V827.6H1638.3V831.4H1636.3V829.4H1634.3V821.5H1632.3V824.6H1630.3V824.1H1628.3V829.5H1626.3V825.8H1624.3V826.5H1622.3V826.5H1620.3V826.4H1618.3V826.4H1616.3V824.2H1614.3V825.9H1612.3V824.9H1610.3V827.7H1608.3V820.9H1606.3V826.5H1604.3V826.5H1602.3V825.6H1600.3V818.4H1598.3V817.8H1596.3V830.6H1594.3V823.4H1592.3V823.2H1590.3V824.7H1588.3V826.1H1586.3V830.2H1584.3V822.5H1582.3V822.4H1580.3V822.4H1578.3V823.6H1576.3V826.3H1574.3V819.1H1572.3V820.1H1570.3V823.7H1568.3V823.1H1566.3V819.6H1564.3V819.3H1562.3V822.1H1560.3V825.7H1558.3V824.1H1556.3V822.2H1554.3V822.3H1552.3V827.0H1550.3V824.6H1548.3V821.6H1546.3V820.5H1544.3V819.9H1542.3V818.0H1540.3V817.2H1538.3V824.3H1536.3V821.4H1534.3V818.1H1532.3V828.7H1530.3V824.4H1528.3V821.2H1526.3V819.5H1524.3V822.8H1522.3V820.4H1520.3V826.3H1518.3V827.9H1516.3V822.0H1514.3V819.2H1512.3V825.8H1510.3V821.3H1508.3V817.1H1506.3V823.2H1504.3V819.3H1502.3V823.5H1500.3V824.7H1498.3V830.8H1496.3V815.6H1494.3V822.9H1492.3V818.3H1490.3V822.7H1488.3V822.7H1486.3V822.5H1484.3V820.9H1482.3V824.0H1480.3V818.1H1478.3V826.9H1476.3V820.1H1474.3V820.0H1472.3V822.2H1470.3V820.6H1468.3V825.8H1466.3V825.8H1464.3V819.4H1462.3V815.8H1460.3V824.2H1458.3V823.8H1456.3V821.5H1454.3V827.8H1452.3V827.8H1450.3V816.6H1448.3V824.6H1446.3V816.4H1444.3V821.2H1442.3V821.2H1440.3V819.1H1438.3V817.1H1436.3V817.1H1434.3V818.1H1432.3V823.1H1430.3V820.3H1428.3V821.3H1426.3V817.9H1424.3V818.5H1422.3V816.9H1420.3V815.7H1418.3V812.0H1416.3V821.9H1414.3V819.6H1412.3V822.0H1410.3V822.0H1408.3V818.3H1406.3V821.6H1404.3V815.1H1402.3V818.2H1400.3V819.9H1398.3V818.6H1396.3V817.9H1394.3V817.9H1392.3V822.8H1390.3V818.6H1388.3V823.3H1386.3V812.3H1384.3V824.7H1382.3V818.7H1380.3V822.2H1378.3V821.7H1376.3V816.4H1374.3V817.3H1372.3V817.1H1370.3V813.3H1368.3V817.5H1366.3V819.2H1364.3V819.2H1362.3V817.8H1360.3V821.3H1358.3V815.8H1356.3V822.9H1354.3V817.6H1352.3V815.2H1350.3V811.3H1348.3V820.2H1346.3V821.4H1344.3V817.5H1342.3V812.6H1340.3V815.8H1338.3V817.9H1336.3V813.8H1334.3V811.7H1332.3V812.2H1330.3V814.9H1328.3V817.4H1326.3V811.8H1324.3V810.5H1322.3V815.8H1320.3V808.6H1318.3V811.5H1316.3V818.3H1314.3V817.3H1312.3V816.5H1310.3V813.9H1308.3V819.0H1306.3V819.2H1304.3V819.9H1302.3V816.8H1300.3V817.8H1298.3V821.0H1296.3V821.0H1294.3V821.8H1292.3V814.9H1290.3V819.3H1288.3V819.4H1286.3V815.0H1284.3V812.4H1282.3V822.1H1280.3V817.1H1278.3V815.3H1276.3V820.5H1274.3V814.6H1272.3V816.8H1270.3V812.6H1268.3V821.9H1266.3V817.2H1264.3V816.1H1262.3V817.7H1260.3V816.2H1258.3V817.1H1256.3V821.0H1254.3V818.3H1252.3V821.5H1250.3V823.8H1248.3V823.0H1246.3V823.0H1244.3V818.9H1242.3V820.1H1240.3V823.9H1238.3V822.6H1236.3V817.7H1234.3V832.1H1232.3V832.1H1230.3V820.4H1228.3V822.0H1226.3V824.6H1224.3V817.8H1222.3V814.7H1220.3V823.8H1218.3V818.3H1216.3V822.3H1214.3V829.2H1212.3V825.0H1210.3V826.4H1208.3V822.2H1206.3V820.2H1204.3V817.4H1202.3V823.2H1200.3V824.0H1198.3V822.7H1196.3V828.9H1194.3V821.9H1192.3V824.0H1190.3V819.7H1188.3V823.7H1186.3V821.7H1184.3V822.4H1182.3V824.3H1180.3V824.3H1178.3V832.3H1176.3V821.5H1174.3V822.6H1172.3V823.7H1170.3V827.0H1168.3V827.4H1166.3V826.3H1164.3V819.6H1162.3V823.8H1160.3V823.6H1158.3V822.5H1156.3V829.4H1154.3V825.8H1152.3V823.0H1150.3V826.2H1148.3V823.1H1146.3V828.8H1144.3V828.8H1142.3V827.0H1140.3V824.0H1138.3V826.5H1136.3V825.1H1134.3V826.0H1132.3V832.0H1130.3V832.0H1128.3V826.6H1126.3V826.6H1124.3V830.0H1122.3V836.5H1120.3V827.7H1118.3V829.1H1116.3V823.0H1114.3V822.3H1112.3V824.7H1110.3V825.5H1108.3V828.0H1106.3V828.9H1104.3V825.8H1102.3V821.4H1100.3V824.5H1098.3V823.1H1096.3V830.7H1094.3V823.2H1092.3V821.0H1090.3V824.8H1088.3V826.4H1086.3V819.4H1084.3V824.4H1082.3V825.2H1080.3V822.0H1078.3V815.7H1076.3V817.2H1074.3V821.9H1072.3V821.1H1070.3V822.5H1068.3V820.8H1066.3V819.4H1064.3V816.8H1062.3V825.8H1060.3V815.9H1058.3V815.3H1056.3V827.8H1054.3V823.6H1052.3V820.0H1050.3V828.0H1048.3V821.9H1046.3V816.3H1044.3V818.7H1042.3V815.9H1040.3V813.9H1038.3V811.6H1036.3V819.0H1034.3V816.0H1032.3V816.6H1030.3V824.8H1028.3V811.7H1026.3V810.3H1024.3V807.4H1022.3V810.4H1020.3V808.4H1018.3V808.4H1016.3V805.2H1014.3V806.1H1012.3V801.2H1010.3V795.8H1008.3V797.4H1006.3V797.4H1004.3V797.3H1002.3V795.4H1000.3V791.6H998.3V785.7H996.3V791.3H994.3V786.6H992.3V784.4H990.3V783.6H988.3V780.1H986.3V788.9H984.3V774.0H982.3V780.4H980.3V768.1H978.3V778.2H976.3V774.9H974.3V764.9H972.3V771.2H970.3V768.0H968.3V766.6H966.3V759.2H964.3V759.8H962.3V753.7H960.3V753.7H958.3V754.7H956.3V752.7H954.3V745.6H952.3V748.5H950.3V747.8H948.3V748.4H946.3V746.8H944.3V759.1H942.3V758.9H940.3V742.4H938.3V750.0H936.3V750.0H934.3V754.0H932.3V745.6H930.3V752.6H928.3V750.9H926.3V747.6H924.3V749.2H922.3V756.5H920.3V752.5H918.3V749.5H916.3V756.2H914.3V757.4H912.3V753.4H910.3V757.7H908.3V755.2H906.3V758.1H904.3V763.9H902.3V765.4H900.3V762.9H898.3V764.0H896.3V753.0H894.3V756.1H892.3V757.0H890.3V767.7H888.3V767.7H886.3V760.9H884.3V760.3H882.3V762.0H880.3V756.3H878.3V765.9H876.3V753.3H874.3V753.8H872.3V754.9H870.3V759.0H868.3V779.3H866.3V771.2H864.3V759.1H862.3V764.9H860.3V757.6H858.3V754.9H856.3V757.3H854.3V751.6H852.3V758.9H850.3V753.1H848.3V752.0H846.3V758.7H844.3V750.9H842.3V751.9H840.3V744.1H838.3V744.7H836.3V753.9H834.3V754.0H832.3V742.7H830.3V751.2H828.3V741.0H826.3V759.7H824.3V745.3H822.3V737.1H820.3V755.4H818.3V737.3H816.3V727.1H814.3V730.0H812.3V734.6H810.3V736.5H808.3V730.0H806.3V734.2H804.3V732.9H802.3V722.9H800.3V742.5H798.3V742.5H796.3V720.4H794.3V728.6H792.3V737.9H790.3V732.2H788.3V730.5H786.3V734.4H784.3V737.7H782.3V732.0H780.3V731.9H778.3V738.5H776.3V740.3H774.3V743.6H772.3V736.8H770.3V744.3H768.3V742.2H766.3V745.3H764.3V744.9H762.3V757.4H760.3V757.4H758.3V761.2H756.3V766.9H754.3V766.2H752.3V775.5H750.3V776.9H748.3V773.9H746.3V770.3H744.3V775.1H742.3V775.1H740.3V778.8H738.3V780.2H736.3V784.0H734.3V784.8H732.3V787.3H730.3V787.7H728.3V790.8H726.3V794.1H724.3V795.7H722.3V789.7H720.3V794.2H718.3V801.6H716.3V792.0H714.3V791.7H712.3V795.4H710.3V797.4H708.3V799.6H706.3V802.4H704.3V804.4H702.3V799.9H700.3V801.0H698.3V810.6H696.3V797.2H694.3V809.1H692.3V801.2H690.3V806.5H688.3V810.4H686.3V817.0H684.3V811.0H682.3V806.3H680.3V804.2H678.3V804.9H676.3V805.6H674.3V809.4H672.3V812.6H670.3V805.5H668.3V808.0H666.3V804.3H664.3V808.6H662.3V806.2H660.3V807.5H658.3V815.0H656.3V808.8H654.3V809.9H652.3V807.8H650.3V812.3H648.3V813.1H646.3V808.7H644.3V818.6H642.3V812.8H640.3V812.9H638.3V817.9H636.3V814.4H634.3V812.3H632.3V817.3H630.3V814.8H628.3V809.4H626.3V810.9H624.3V806.9H622.3V806.1H620.3V813.8H618.3V814.0H616.3V814.4H614.3V815.9H612.3V807.5H610.3V822.6H608.3V810.2H606.3V812.1H604.3V814.7H602.3V821.4H600.3V810.0H598.3V817.3H596.3V809.2H594.3V805.1H592.3V806.0H590.3V804.7H588.3V804.0H586.3V805.8H584.3V802.2H582.3V800.1H580.3V804.4H578.3V803.9H576.3V803.9H574.3V795.2H572.3V793.4H570.3V799.6H568.3V797.4H566.3V802.4H564.3V793.5H562.3V798.2H560.3V794.9H558.3V789.5H556.3V789.0H554.3V789.0H552.3V782.1H550.3V777.0H548.3V775.7H546.3V773.2H544.3V784.9H542.3V774.6H540.3V768.8H538.3V756.5H536.3V759.0H534.3V765.2H532.3V762.9H530.3V746.8H528.3V747.4H526.3V745.2H524.3V740.5H522.3V748.9H520.3V743.8H518.3V743.6H516.3V756.4H514.3V730.7H512.3V760.0H510.3V746.4H508.3V722.5H506.3V718.6H504.3V738.7H502.3V727.8H500.3V713.2H498.3V696.1H496.3V695.2H494.3V685.6H492.3V680.4H490.3V659.0H488.3V664.1H486.3V655.5H484.3V655.3H482.3V641.8H480.3V648.2H478.3V620.0H476.3V610.1H474.3V602.2H472.3V602.2H470.3V580.0H468.3V578.7H466.3V581.8H464.3V576.8H462.3V562.5H460.3V543.1H458.3V539.9H456.3V520.0H454.3V530.4H452.3V503.4H450.3V501.2H448.3V501.2H446.3V499.9H444.3V498.9H442.3V513.0H440.3V512.4H438.3V530.2H436.3V530.2H434.3V546.5H432.3V555.9H430.3V575.9H428.3V584.7H426.3V579.9H424.3V608.9H422.3V637.5H420.3V660.9H418.3V660.9H416.3V658.7H414.3V684.0H412.3V671.5H410.3V695.7H408.3V697.1H406.3V700.4H404.3V702.5H402.3V717.1H400.3V733.8H398.3V747.1H396.3V762.0H394.3V769.5H392.3V773.5H390.3V776.0H388.3V777.4H386.3V773.6H384.3V778.9H382.3V786.3H380.3V793.4H378.3V804.3H376.3V788.6H374.3V791.9H372.3V801.1H370.3V794.6H368.3V798.6H366.3V797.2H364.3V801.7H362.3V803.3H360.3V800.0H358.3V806.8H356.3V800.5H354.3V805.3H352.3V809.6H350.3V811.7H348.3V806.1H346.3V803.9H344.3V811.3H342.3V809.9H340.3V807.8H338.3V816.4H336.3V809.3H334.3V810.8H332.3V818.0H330.3V815.5H328.3V825.8H326.3V812.2H324.3V816.9H322.3V811.5H320.3V822.6H318.3V819.4H316.3V821.6H314.3V816.5H312.3V823.3H310.3V819.4H308.3V823.1H306.3V830.4H304.3V822.9H302.3V824.9H300.3V826.7H298.3V827.4H296.3V818.3H294.3V829.7H292.3V823.2H290.3V822.3H288.3V830.6H286.3V836.6H284.3V821.3H282.3V822.9H280.3V822.9H278.3V831.5H276.3V819.9H274.3V820.6H272.3V823.0H270.3V821.8H268.3V821.2H266.3V826.1H264.3V821.2H262.3V825.7H260.3V823.1H258.3V828.2H256.3V820.0H254.3V821.6H252.3V820.3H250.3V826.0H248.3V821.5H246.3V822.8H244.3V817.8H242.3V819.1H240.3V826.9H238.3V827.7H236.3V820.4H234.3V826.0H232.3V819.5H230.3V813.9H228.3V819.8H226.3V817.4H224.3V821.0H222.3V817.1H220.3V823.2H218.3V819.7H216.3V817.0H214.3V812.3H212.3V815.9H210.3V825.0H208.3V816.3H206.3V814.8H204.3V821.4H202.3V822.4H200.3V822.4H198.3V812.0H196.3V813.2H194.3V812.3H192.3V812.2H190.3V808.5H188.3V807.3H186.3V808.6H184.3V809.7H182.3V804.9H180.3V810.3H178.3V805.5H176.3V811.0H174.3V811.0H172.3V808.5H170.3V796.9H168.3V804.7H166.3V798.2H164.3V808.9H162.3V805.2H160.3V799.7H158.3V799.2H156.3V802.0H154.3V799.0H152.3V795.7H150.3V794.9H148.3V798.5H146.3V800.1H144.3V800.1H142.3V797.1H140.3V801.1H138.3V792.1H136.3V794.7H134.3V796.2H132.3V799.8H130.3V799.1H128.3V797.4H126.3V795.3H124.3V796.4H122.3V792.2H120.3V794.4H118.3Z" fill="#2d2dff"/>
<path d="M118.3 1024.7V891.6H120.3V909.5H122.3V943.6H124.3V941.4H126.3V966.2H128.3V962.3H130.3V956.7H132.3V974.0H134.3V907.6H136.3V961.9H138.3V991.6H140.3V972.4H142.3V934.2H144.3V934.2H146.3V951.2H148.3V950.3H150.3V979.1H152.3V968.3H154.3V1030.0H156.3V980.4H158.3V980.4H160.3V976.5H162.3V1015.8H164.3V1005.6H166.3V1024.4H168.3V978.1H170.3V974.4H172.3V1010.3H174.3V1033.4H176.3V1001.0H178.3V1022.7H180.3V1023.9H182.3V1017.2H184.3V1017.2H186.3V1016.1H188.3V1026.4H190.3V1047.9H192.3V1008.2H194.3V1064.6H196.3V1051.2H198.3V1051.2H200.3V1053.4H202.3V1053.2H204.3V1042.4H206.3V1042.4H208.3V1036.4H210.3V1033.9H212.3V1058.9H214.3V1062.2H216.3V1006.5H218.3V1038.8H220.3V1045.5H222.3V1045.0H224.3V1045.0H226.3V1067.4H228.3V1067.4H230.3V1081.1H232.3V1067.2H234.3V1073.8H236.3V1078.8H238.3V1094.0H240.3V1090.1H242.3V1090.1H244.3V1058.0H246.3V1081.7H248.3V1066.5H250.3V1052.3H252.3V1052.3H254.3V1065.7H256.3V1093.1H258.3V1075.7H260.3V1089.7H262.3V1071.5H264.3V1081.8H266.3V1092.8H268.3V1042.0H270.3V1082.4H272.3V1082.4H274.3V1091.2H276.3V1089.3H278.3V1089.3H280.3V1056.1H282.3V1056.1H284.3V1084.0H286.3V1089.7H288.3V1099.0H290.3V1104.2H292.3V1052.1H294.3V1091.3H296.3V1083.7H298.3V1083.7H300.3V1096.0H302.3V1095.3H304.3V1070.6H306.3V1104.2H308.3V1100.4H310.3V1090.7H312.3V1085.3H314.3V1077.0H316.3V1077.0H318.3V1096.0H320.3V1097.6H322.3V1101.3H324.3V1103.8H326.3V1098.1H328.3V1068.5H330.3V1068.5H332.3V1082.1H334.3V1085.2H336.3V1088.9H338.3V1108.7H340.3V1088.9H342.3V1088.9H344.3V1104.0H346.3V1103.3H348.3V1104.0H350.3V1090.0H352.3V1087.9H354.3V1114.7H356.3V1094.3H358.3V1089.4H360.3V1084.7H362.3V1084.7H364.3V1095.8H366.3V1080.6H368.3V1094.4H370.3V1051.9H372.3V1096.2H374.3V1096.2H376.3V1101.5H378.3V1054.1H380.3V1098.8H382.3V1093.6H384.3V1095.9H386.3V1106.7H388.3V1099.6H390.3V1090.6H392.3V1082.9H394.3V1120.9H396.3V1072.6H398.3V1072.6H400.3V1100.9H402.3V1105.7H404.3V1093.2H406.3V1093.1H408.3V1090.1H410.3V1090.1H412.3V1111.2H414.3V1089.1H416.3V1077.7H418.3V1091.9H420.3V1100.9H422.3V1109.1H424.3V1089.2H426.3V1089.6H428.3V1089.6H430.3V1092.0H432.3V1075.9H434.3V1081.8H436.3V1084.8H438.3V1053.4H440.3V1053.4H442.3V1079.6H444.3V1088.9H446.3V1102.1H448.3V1104.4H450.3V1098.9H452.3V1094.3H454.3V1085.4H456.3V1104.0H458.3V1098.4H460.3V1080.9H462.3V1091.1H464.3V1091.1H466.3V1081.6H468.3V1081.4H470.3V1081.4H472.3V1102.3H474.3V1057.1H476.3V1057.1H478.3V1097.1H480.3V1097.1H482.3V1090.4H484.3V1088.7H486.3V1088.7H488.3V1080.2H490.3V1078.7H492.3V1077.6H494.3V1072.6H496.3V1086.1H498.3V1093.0H500.3V1083.5H502.3V1079.5H504.3V1089.8H506.3V1064.6H508.3V1064.6H510.3V1066.6H512.3V1065.6H514.3V1091.2H516.3V1068.3H518.3V1068.3H520.3V1097.7H522.3V1079.6H524.3V1072.1H526.3V1077.7H528.3V1077.7H530.3V1086.6H532.3V1041.7H534.3V1067.3H536.3V1080.1H538.3V1096.1H540.3V1063.8H542.3V1079.3H544.3V1072.9H546.3V1068.8H548.3V1065.1H550.3V1072.4H552.3V1063.9H554.3V1062.9H556.3V1055.7H558.3V1057.3H560.3V1043.2H562.3V1014.6H564.3V1014.6H566.3V1015.3H568.3V1024.1H570.3V1044.8H572.3V1044.8H574.3V1040.3H576.3V1040.3H578.3V1041.2H580.3V1017.4H582.3V1037.3H584.3V1016.0H586.3V1001.3H588.3V959.2H590.3V941.3H592.3V927.9H594.3V887.7H596.3V874.3H598.3V884.1H600.3V921.3H602.3V919.2H604.3V985.3H606.3V997.4H608.3V997.3H610.3V1025.1H612.3V1004.3H614.3V1001.9H616.3V1029.7H618.3V1040.6H620.3V1029.4H622.3V1076.3H624.3V1035.4H626.3V1033.0H628.3V1055.4H630.3V1040.2H632.3V1061.7H634.3V1061.7H636.3V1059.8H638.3V1059.8H640.3V1083.1H642.3V1077.0H644.3V1073.8H646.3V1073.8H648.3V1077.6H650.3V1077.6H652.3V1072.8H654.3V1072.8H656.3V1099.2H658.3V1095.0H660.3V1108.0H662.3V1096.1H664.3V1074.5H666.3V1090.4H668.3V1078.1H670.3V1078.1H672.3V1068.3H674.3V1080.9H676.3V1080.9H678.3V1101.2H680.3V1091.5H682.3V1073.3H684.3V1073.3H686.3V1075.9H688.3V1075.9H690.3V1093.3H692.3V1093.3H694.3V1080.6H696.3V1086.0H698.3V1096.5H700.3V1085.3H702.3V1101.7H704.3V1097.5H706.3V1096.3H708.3V1102.6H710.3V1103.3H712.3V1116.8H714.3V1101.3H716.3V1099.1H718.3V1108.0H720.3V1111.7H722.3V1101.0H724.3V1114.0H726.3V1091.9H728.3V1091.9H730.3V1108.9H732.3V1120.5H734.3V1123.1H736.3V1119.5H738.3V1118.1H740.3V1118.1H742.3V1132.9H744.3V1096.6H746.3V1096.6H748.3V1106.5H750.3V1113.8H752.3V1129.7H754.3V1136.6H756.3V1128.4H758.3V1127.3H760.3V1120.5H762.3V1102.4H764.3V1108.7H766.3V1109.4H768.3V1137.5H770.3V1116.2H772.3V1123.6H774.3V1128.7H776.3V1124.3H778.3V1124.2H780.3V1110.1H782.3V1125.5H784.3V1127.0H786.3V1136.7H788.3V1132.0H790.3V1132.0H792.3V1128.4H794.3V1096.1H796.3V1129.1H798.3V1129.1H800.3V1130.8H802.3V1130.8H804.3V1134.2H806.3V1134.2H808.3V1114.8H810.3V1118.1H812.3V1116.3H814.3V1124.9H816.3V1124.5H818.3V1120.5H820.3V1120.5H822.3V1130.1H824.3V1127.4H826.3V1126.8H828.3V1114.8H830.3V1114.8H832.3V1122.8H834.3V1122.8H836.3V1111.8H838.3V1099.2H840.3V1126.3H842.3V1102.3H844.3V1116.0H846.3V1133.6H848.3V1145.6H850.3V1147.2H852.3V1130.5H854.3V1125.6H856.3V1131.9H858.3V1114.0H860.3V1141.1H862.3V1104.3H864.3V1127.1H866.3V1148.9H868.3V1139.2H870.3V1102.7H872.3V1127.9H874.3V1097.3H876.3V1127.7H878.3V1146.2H880.3V1138.0H882.3V1121.9H884.3V1121.6H886.3V1101.9H888.3V1104.2H890.3V1104.2H892.3V1127.4H894.3V1131.5H896.3V1124.3H898.3V1142.7H900.3V1129.9H902.3V1104.1H904.3V1104.1H906.3V1129.2H908.3V1107.7H910.3V1132.6H912.3V1128.6H914.3V1126.7H916.3V1129.8H918.3V1122.3H920.3V1115.4H922.3V1116.2H924.3V1112.7H926.3V1115.8H928.3V1129.5H930.3V1108.8H932.3V1128.6H934.3V1125.3H936.3V1136.9H938.3V1120.7H940.3V1120.9H942.3V1107.6H944.3V1133.9H946.3V1116.0H948.3V1109.0H950.3V1109.0H952.3V1116.7H954.3V1113.6H956.3V1125.2H958.3V1120.8H960.3V1120.0H962.3V1106.3H964.3V1114.7H966.3V1120.9H968.3V1105.8H970.3V1128.7H972.3V1130.5H974.3V1127.3H976.3V1124.9H978.3V1111.6H980.3V1113.8H982.3V1125.0H984.3V1100.2H986.3V1109.6H988.3V1110.9H990.3V1119.0H992.3V1134.5H994.3V1138.9H996.3V1110.0H998.3V1119.0H1000.3V1116.3H1002.3V1093.8H1004.3V1113.7H1006.3V1120.4H1008.3V1113.6H1010.3V1121.8H1012.3V1121.8H1014.3V1114.2H1016.3V1121.3H1018.3V1110.0H1020.3V1110.0H1022.3V1122.8H1024.3V1085.7H1026.3V1129.5H1028.3V1133.3H1030.3V1124.6H1032.3V1126.9H1034.3V1137.4H1036.3V1140.2H1038.3V1132.9H1040.3V1121.9H1042.3V1120.5H1044.3V1116.0H1046.3V1116.0H1048.3V1120.4H1050.3V1125.7H1052.3V1095.1H1054.3V1101.6H1056.3V1143.0H1058.3V1115.8H1060.3V1097.3H1062.3V1123.7H1064.3V1098.9H1066.3V1105.9H1068.3V1112.6H1070.3V1126.0H1072.3V1126.0H1074.3V1117.8H1076.3V1120.1H1078.3V1124.3H1080.3V1112.1H1082.3V1127.0H1084.3V1092.2H1086.3V1120.7H1088.3V1124.5H1090.3V1123.5H1092.3V1118.9H1094.3V1111.2H1096.3V1108.1H1098.3V1110.9H1100.3V1107.9H1102.3V1111.1H1104.3V1096.0H1106.3V1124.4H1108.3V1105.5H1110.3V1104.1H1112.3V1075.0H1114.3V1082.1H1116.3V1106.8H1118.3V1078.2H1120.3V1078.2H1122.3V1086.2H1124.3V1085.6H1126.3V1085.5H1128.3V1081.7H1130.3V1077.9H1132.3V1071.9H1134.3V1050.9H1136.3V1032.3H1138.3V1058.6H1140.3V1081.6H1142.3V1074.4H1144.3V1085.3H1146.3V1087.3H1148.3V1101.8H1150.3V1101.8H1152.3V1104.3H1154.3V1095.2H1156.3V1115.4H1158.3V1126.3H1160.3V1125.2H1162.3V1118.1H1164.3V1128.9H1166.3V1107.9H1168.3V1121.8H1170.3V1132.3H1172.3V1138.1H1174.3V1123.8H1176.3V1124.0H1178.3V1130.0H1180.3V1134.8H1182.3V1134.8H1184.3V1120.8H1186.3V1130.0H1188.3V1116.7H1190.3V1128.8H1192.3V1129.8H1194.3V1129.6H1196.3V1135.7H1198.3V1135.7H1200.3V1130.9H1202.3V1133.8H1204.3V1112.7H1206.3V1136.1H1208.3V1149.9H1210.3V1130.5H1212.3V1125.4H1214.3V1142.4H1216.3V1141.6H1218.3V1128.3H1220.3V1128.4H1222.3V1143.7H1224.3V1145.9H1226.3V1136.9H1228.3V1139.5H1230.3V1133.3H1232.3V1133.3H1234.3V1136.1H1236.3V1148.3H1238.3V1137.7H1240.3V1142.8H1242.3V1137.8H1244.3V1143.4H1246.3V1122.7H1248.3V1140.9H1250.3V1137.9H1252.3V1136.3H1254.3V1142.1H1256.3V1159.8H1258.3V1143.1H1260.3V1160.5H1262.3V1149.6H1264.3V1159.1H1266.3V1139.9H1268.3V1146.4H1270.3V1134.5H1272.3V1140.9H1274.3V1142.3H1276.3V1142.3H1278.3V1132.0H1280.3V1137.2H1282.3V1137.0H1284.3V1147.7H1286.3V1145.1H1288.3V1155.2H1290.3V1152.4H1292.3V1150.6H1294.3V1152.4H1296.3V1144.2H1298.3V1140.2H1300.3V1168.0H1302.3V1140.4H1304.3V1144.3H1306.3V1163.1H1308.3V1154.0H1310.3V1149.7H1312.3V1159.5H1314.3V1160.3H1316.3V1153.5H1318.3V1163.2H1320.3V1130.1H1322.3V1136.3H1324.3V1136.3H1326.3V1147.9H1328.3V1162.6H1330.3V1141.5H1332.3V1142.4H1334.3V1129.5H1336.3V1146.4H1338.3V1145.5H1340.3V1165.1H1342.3V1157.2H1344.3V1157.2H1346.3V1159.3H1348.3V1122.6H1350.3V1147.1H1352.3V1159.5H1354.3V1141.3H1356.3V1141.3H1358.3V1166.2H1360.3V1139.6H1362.3V1139.6H1364.3V1156.6H1366.3V1158.0H1368.3V1160.1H1370.3V1146.8H1372.3V1144.9H1374.3V1150.5H1376.3V1149.0H1378.3V1141.0H1380.3V1150.5H1382.3V1162.8H1384.3V1153.2H1386.3V1157.7H1388.3V1149.7H1390.3V1160.7H1392.3V1154.2H1394.3V1148.0H1396.3V1151.9H1398.3V1151.9H1400.3V1133.7H1402.3V1175.6H1404.3V1168.7H1406.3V1155.3H1408.3V1155.3H1410.3V1155.3H1412.3V1168.7H1414.3V1155.7H1416.3V1146.1H1418.3V1162.8H1420.3V1165.1H1422.3V1159.9H1424.3V1148.0H1426.3V1160.2H1428.3V1164.2H1430.3V1164.2H1432.3V1140.4H1434.3V1163.8H1436.3V1151.7H1438.3V1182.8H1440.3V1159.7H1442.3V1146.9H1444.3V1137.5H1446.3V1145.7H1448.3V1160.1H1450.3V1160.1H1452.3V1143.1H1454.3V1159.7H1456.3V1159.7H1458.3V1177.1H1460.3V1163.2H1462.3V1151.0H1464.3V1168.5H1466.3V1157.5H1468.3V1162.4H1470.3V1138.8H1472.3V1160.1H1474.3V1168.4H1476.3V1152.0H1478.3V1143.2H1480.3V1169.5H1482.3V1168.2H1484.3V1152.2H1486.3V1167.8H1488.3V1172.4H1490.3V1141.2H1492.3V1146.6H1494.3V1162.4H1496.3V1177.3H1498.3V1162.8H1500.3V1164.5H1502.3V1155.8H1504.3V1155.8H1506.3V1168.5H1508.3V1173.0H1510.3V1169.7H1512.3V1146.5H1514.3V1181.8H1516.3V1158.7H1518.3V1149.5H1520.3V1149.5H1522.3V1168.6H1524.3V1169.8H1526.3V1167.2H1528.3V1181.1H1530.3V1169.9H1532.3V1159.9H1534.3V1174.3H1536.3V1169.2H1538.3V1161.7H1540.3V1161.7H1542.3V1183.0H1544.3V1176.9H1546.3V1176.9H1548.3V1175.4H1550.3V1175.1H1552.3V1170.6H1554.3V1179.2H1556.3V1171.6H1558.3V1162.1H1560.3V1168.6H1562.3V1170.8H1564.3V1173.5H1566.3V1168.7H1568.3V1169.3H1570.3V1178.2H1572.3V1157.1H1574.3V1178.3H1576.3V1186.3H1578.3V1163.3H1580.3V1168.6H1582.3V1158.5H1584.3V1171.8H1586.3V1170.7H1588.3V1178.1H1590.3V1173.9H1592.3V1156.5H1594.3V1170.3H1596.3V1186.9H1598.3V1190.7H1600.3V1172.7H1602.3V1155.2H1604.3V1183.7H1606.3V1150.1H1608.3V1150.1H1610.3V1166.6H1612.3V1166.6H1614.3V1180.6H1616.3V1170.1H1618.3V1170.3H1620.3V1170.3H1622.3V1170.9H1624.3V1170.9H1626.3V1178.5H1628.3V1181.0H1630.3V1168.4H1632.3V1182.0H1634.3V1178.6H1636.3V1178.6H1638.3V1187.0H1640.3V1173.1H1642.3V1162.6H1644.3V1173.8H1646.3V1211.7H1644.3V1226.9H1642.3V1226.9H1640.3V1217.5H1638.3V1207.9H1636.3V1223.3H1634.3V1202.6H1632.3V1194.1H1630.3V1207.0H1628.3V1194.1H1626.3V1216.0H1624.3V1204.1H1622.3V1204.1H1620.3V1191.8H1618.3V1196.3H1616.3V1208.6H1614.3V1196.4H1612.3V1210.6H1610.3V1207.0H1608.3V1199.6H1606.3V1209.3H1604.3V1193.5H1602.3V1192.1H1600.3V1207.6H1598.3V1204.9H1596.3V1205.9H1594.3V1194.2H1592.3V1212.3H1590.3V1212.9H1588.3V1200.2H1586.3V1210.0H1584.3V1210.0H1582.3V1208.1H1580.3V1208.1H1578.3V1197.3H1576.3V1209.3H1574.3V1209.3H1572.3V1195.8H1570.3V1209.7H1568.3V1209.7H1566.3V1193.2H1564.3V1201.3H1562.3V1201.3H1560.3V1192.4H1558.3V1205.9H1556.3V1205.9H1554.3V1217.9H1552.3V1204.8H1550.3V1208.7H1548.3V1208.7H1546.3V1200.3H1544.3V1207.7H1542.3V1193.7H1540.3V1195.9H1538.3V1203.5H1536.3V1194.6H1534.3V1195.2H1532.3V1195.2H1530.3V1196.7H1528.3V1201.6H1526.3V1176.5H1524.3V1196.6H1522.3V1196.0H1520.3V1204.5H1518.3V1221.2H1516.3V1222.1H1514.3V1187.1H1512.3V1202.2H1510.3V1202.2H1508.3V1195.4H1506.3V1196.4H1504.3V1183.1H1502.3V1210.6H1500.3V1193.2H1498.3V1187.3H1496.3V1192.7H1494.3V1198.3H1492.3V1203.1H1490.3V1198.9H1488.3V1198.9H1486.3V1182.3H1484.3V1196.3H1482.3V1197.9H1480.3V1197.9H1478.3V1185.0H1476.3V1175.6H1474.3V1215.6H1472.3V1194.2H1470.3V1184.4H1468.3V1193.6H1466.3V1221.3H1464.3V1183.0H1462.3V1204.1H1460.3V1204.1H1458.3V1197.6H1456.3V1190.1H1454.3V1190.3H1452.3V1188.2H1450.3V1188.6H1448.3V1191.8H1446.3V1186.8H1444.3V1205.6H1442.3V1189.4H1440.3V1189.7H1438.3V1184.2H1436.3V1194.3H1434.3V1194.3H1432.3V1191.9H1430.3V1199.4H1428.3V1186.5H1426.3V1192.7H1424.3V1180.2H1422.3V1193.7H1420.3V1179.9H1418.3V1179.1H1416.3V1201.0H1414.3V1201.7H1412.3V1187.4H1410.3V1194.8H1408.3V1180.9H1406.3V1193.8H1404.3V1209.0H1402.3V1190.3H1400.3V1180.2H1398.3V1182.4H1396.3V1176.0H1394.3V1185.0H1392.3V1185.1H1390.3V1197.8H1388.3V1178.1H1386.3V1169.5H1384.3V1175.3H1382.3V1198.7H1380.3V1199.1H1378.3V1198.2H1376.3V1188.8H1374.3V1186.9H1372.3V1185.4H1370.3V1210.5H1368.3V1180.0H1366.3V1192.4H1364.3V1188.7H1362.3V1187.4H1360.3V1212.8H1358.3V1212.8H1356.3V1198.0H1354.3V1186.7H1352.3V1186.7H1350.3V1186.4H1348.3V1178.7H1346.3V1178.7H1344.3V1192.5H1342.3V1189.0H1340.3V1172.5H1338.3V1185.3H1336.3V1188.1H1334.3V1188.1H1332.3V1176.5H1330.3V1190.2H1328.3V1189.9H1326.3V1193.7H1324.3V1178.6H1322.3V1192.2H1320.3V1192.2H1318.3V1180.3H1316.3V1175.3H1314.3V1196.4H1312.3V1187.0H1310.3V1184.6H1308.3V1185.7H1306.3V1182.5H1304.3V1196.9H1302.3V1180.9H1300.3V1177.1H1298.3V1188.2H1296.3V1188.2H1294.3V1176.0H1292.3V1197.3H1290.3V1184.1H1288.3V1173.6H1286.3V1173.4H1284.3V1198.2H1282.3V1189.8H1280.3V1189.8H1278.3V1161.8H1276.3V1190.0H1274.3V1169.2H1272.3V1186.9H1270.3V1189.0H1268.3V1178.6H1266.3V1190.0H1264.3V1181.6H1262.3V1175.5H1260.3V1168.5H1258.3V1186.2H1256.3V1173.8H1254.3V1172.9H1252.3V1167.3H1250.3V1166.8H1248.3V1174.3H1246.3V1169.4H1244.3V1166.7H1242.3V1188.5H1240.3V1188.3H1238.3V1177.9H1236.3V1172.8H1234.3V1167.7H1232.3V1169.3H1230.3V1168.6H1228.3V1184.5H1226.3V1169.7H1224.3V1163.8H1222.3V1168.8H1220.3V1180.9H1218.3V1171.9H1216.3V1191.6H1214.3V1156.5H1212.3V1167.1H1210.3V1167.1H1208.3V1160.0H1206.3V1170.6H1204.3V1184.5H1202.3V1154.0H1200.3V1160.2H1198.3V1167.3H1196.3V1177.3H1194.3V1177.3H1192.3V1180.3H1190.3V1180.3H1188.3V1172.5H1186.3V1172.5H1184.3V1177.1H1182.3V1156.9H1180.3V1169.5H1178.3V1167.0H1176.3V1166.6H1174.3V1179.4H1172.3V1158.1H1170.3V1158.1H1168.3V1160.2H1166.3V1160.2H1164.3V1152.1H1162.3V1153.4H1160.3V1155.7H1158.3V1186.1H1156.3V1148.4H1154.3V1148.4H1152.3V1141.5H1150.3V1146.0H1148.3V1135.7H1146.3V1133.0H1144.3V1132.3H1142.3V1113.1H1140.3V1112.5H1138.3V1092.0H1136.3V1089.4H1134.3V1104.2H1132.3V1104.3H1130.3V1116.1H1128.3V1132.3H1126.3V1127.2H1124.3V1114.1H1122.3V1157.4H1120.3V1131.6H1118.3V1131.5H1116.3V1145.0H1114.3V1137.0H1112.3V1150.0H1110.3V1127.1H1108.3V1138.6H1106.3V1138.6H1104.3V1144.6H1102.3V1135.4H1100.3V1135.4H1098.3V1149.7H1096.3V1153.3H1094.3V1140.5H1092.3V1155.7H1090.3V1159.5H1088.3V1168.9H1086.3V1146.0H1084.3V1166.4H1082.3V1169.4H1080.3V1164.7H1078.3V1149.3H1076.3V1150.3H1074.3V1182.5H1072.3V1167.6H1070.3V1149.3H1068.3V1151.0H1066.3V1144.7H1064.3V1149.3H1062.3V1145.3H1060.3V1158.0H1058.3V1158.9H1056.3V1147.1H1054.3V1158.1H1052.3V1157.0H1050.3V1157.0H1048.3V1147.3H1046.3V1169.0H1044.3V1154.4H1042.3V1173.6H1040.3V1158.3H1038.3V1152.0H1036.3V1173.2H1034.3V1169.9H1032.3V1147.8H1030.3V1158.7H1028.3V1148.6H1026.3V1146.3H1024.3V1152.1H1022.3V1168.3H1020.3V1155.0H1018.3V1147.4H1016.3V1169.7H1014.3V1166.8H1012.3V1159.7H1010.3V1159.7H1008.3V1151.1H1006.3V1164.5H1004.3V1193.7H1002.3V1193.7H1000.3V1151.0H998.3V1163.4H996.3V1170.7H994.3V1170.7H992.3V1153.8H990.3V1142.7H988.3V1153.5H986.3V1150.1H984.3V1164.3H982.3V1164.3H980.3V1142.1H978.3V1172.0H976.3V1165.9H974.3V1165.9H972.3V1150.1H970.3V1174.7H968.3V1184.5H966.3V1184.5H964.3V1159.9H962.3V1171.2H960.3V1171.2H958.3V1168.7H956.3V1166.6H954.3V1168.0H952.3V1168.0H950.3V1168.8H948.3V1168.6H946.3V1175.2H944.3V1139.9H942.3V1160.2H940.3V1160.2H938.3V1161.3H936.3V1173.5H934.3V1149.5H932.3V1145.2H930.3V1152.5H928.3V1176.4H926.3V1143.2H924.3V1169.5H922.3V1169.5H920.3V1162.1H918.3V1162.1H916.3V1135.8H914.3V1173.2H912.3V1161.0H910.3V1148.2H908.3V1157.1H906.3V1160.5H904.3V1156.1H902.3V1165.6H900.3V1182.7H898.3V1165.3H896.3V1165.3H894.3V1154.1H892.3V1172.0H890.3V1142.3H888.3V1143.6H886.3V1173.2H884.3V1173.2H882.3V1180.7H880.3V1199.7H878.3V1174.4H876.3V1177.3H874.3V1177.3H872.3V1173.8H870.3V1187.1H868.3V1167.1H866.3V1181.8H864.3V1157.1H862.3V1172.7H860.3V1160.3H858.3V1163.6H856.3V1159.9H854.3V1207.9H852.3V1189.3H850.3V1186.9H848.3V1186.9H846.3V1162.7H844.3V1162.7H842.3V1149.7H840.3V1176.0H838.3V1171.6H836.3V1179.5H834.3V1152.4H832.3V1147.8H830.3V1159.8H828.3V1171.4H826.3V1173.5H824.3V1173.5H822.3V1171.4H820.3V1169.3H818.3V1169.3H816.3V1178.9H814.3V1160.6H812.3V1173.2H810.3V1173.2H808.3V1177.0H806.3V1149.2H804.3V1175.2H802.3V1169.5H800.3V1159.0H798.3V1172.7H796.3V1165.5H794.3V1164.8H792.3V1161.2H790.3V1180.6H788.3V1162.7H786.3V1174.0H784.3V1175.1H782.3V1175.1H780.3V1153.6H778.3V1166.9H776.3V1166.4H774.3V1151.7H772.3V1171.2H770.3V1171.2H768.3V1162.6H766.3V1158.9H764.3V1174.5H762.3V1160.8H760.3V1164.0H758.3V1151.3H756.3V1172.7H754.3V1159.3H752.3V1149.5H750.3V1151.2H748.3V1166.6H746.3V1161.4H744.3V1184.4H742.3V1158.9H740.3V1176.8H738.3V1161.5H736.3V1141.4H734.3V1150.3H732.3V1152.0H730.3V1146.2H728.3V1136.8H726.3V1130.7H724.3V1145.6H722.3V1135.2H720.3V1135.9H718.3V1136.3H716.3V1148.0H714.3V1166.3H712.3V1144.9H710.3V1144.6H708.3V1131.9H706.3V1137.4H704.3V1149.9H702.3V1136.3H700.3V1132.9H698.3V1129.0H696.3V1145.6H694.3V1127.1H692.3V1140.4H690.3V1136.5H688.3V1117.8H686.3V1121.2H684.3V1139.0H682.3V1121.9H680.3V1151.4H678.3V1150.2H676.3V1120.8H674.3V1115.9H672.3V1139.7H670.3V1135.1H668.3V1116.6H666.3V1129.0H664.3V1118.3H662.3V1133.1H660.3V1133.9H658.3V1135.7H656.3V1119.6H654.3V1105.5H652.3V1113.6H650.3V1114.2H648.3V1115.5H646.3V1133.3H644.3V1117.0H642.3V1109.4H640.3V1119.9H638.3V1123.4H636.3V1123.4H634.3V1122.2H632.3V1107.7H630.3V1103.8H628.3V1077.5H626.3V1083.8H624.3V1099.0H622.3V1077.7H620.3V1090.2H618.3V1064.7H616.3V1056.0H614.3V1061.2H612.3V1045.9H610.3V1028.4H608.3V1030.2H606.3V1023.0H604.3V986.7H602.3V964.3H600.3V960.6H598.3V908.3H596.3V950.3H594.3V977.4H592.3V999.5H590.3V1005.0H588.3V1024.8H586.3V1067.0H584.3V1068.7H582.3V1067.7H580.3V1074.6H578.3V1084.5H576.3V1088.2H574.3V1088.2H572.3V1089.5H570.3V1089.5H568.3V1084.8H566.3V1130.3H564.3V1079.5H562.3V1089.8H560.3V1110.3H558.3V1110.3H556.3V1102.0H554.3V1113.9H552.3V1117.2H550.3V1117.4H548.3V1103.9H546.3V1108.3H544.3V1108.3H542.3V1141.1H540.3V1125.8H538.3V1105.6H536.3V1144.9H534.3V1108.5H532.3V1135.6H530.3V1115.1H528.3V1128.7H526.3V1117.6H524.3V1130.8H522.3V1122.8H520.3V1123.1H518.3V1128.8H516.3V1126.0H514.3V1118.4H512.3V1118.1H510.3V1128.9H508.3V1131.2H506.3V1110.5H504.3V1116.9H502.3V1120.4H500.3V1134.9H498.3V1133.6H496.3V1107.7H494.3V1135.8H492.3V1136.5H490.3V1149.0H488.3V1143.4H486.3V1118.8H484.3V1137.4H482.3V1137.4H480.3V1143.2H478.3V1125.0H476.3V1118.0H474.3V1122.7H472.3V1136.4H470.3V1132.6H468.3V1116.0H466.3V1150.1H464.3V1144.1H462.3V1143.9H460.3V1126.8H458.3V1143.5H456.3V1114.3H454.3V1142.1H452.3V1131.0H450.3V1130.2H448.3V1132.3H446.3V1131.8H444.3V1140.3H442.3V1153.6H440.3V1147.9H438.3V1125.9H436.3V1140.4H434.3V1140.4H432.3V1163.8H430.3V1130.7H428.3V1132.4H426.3V1147.5H424.3V1158.5H422.3V1162.8H420.3V1145.7H418.3V1145.7H416.3V1143.9H414.3V1146.6H412.3V1115.4H410.3V1124.7H408.3V1135.9H406.3V1144.1H404.3V1142.0H402.3V1132.3H400.3V1130.1H398.3V1138.5H396.3V1159.7H394.3V1145.8H392.3V1136.6H390.3V1129.2H388.3V1137.5H386.3V1135.5H384.3V1137.4H382.3V1137.4H380.3V1160.2H378.3V1160.2H376.3V1127.9H374.3V1132.4H372.3V1144.1H370.3V1144.1H368.3V1136.3H366.3V1128.9H364.3V1146.8H362.3V1126.8H360.3V1143.1H358.3V1120.7H356.3V1138.6H354.3V1122.5H352.3V1130.9H350.3V1147.4H348.3V1118.3H346.3V1143.3H344.3V1142.2H342.3V1149.1H340.3V1145.3H338.3V1112.1H336.3V1132.3H334.3V1128.6H332.3V1127.4H330.3V1161.4H328.3V1145.3H326.3V1128.9H324.3V1137.2H322.3V1132.9H320.3V1126.1H318.3V1125.0H316.3V1128.1H314.3V1115.0H312.3V1132.7H310.3V1149.9H308.3V1134.4H306.3V1152.2H304.3V1141.8H302.3V1140.4H300.3V1140.6H298.3V1138.9H296.3V1127.3H294.3V1127.7H292.3V1138.4H290.3V1137.2H288.3V1146.2H286.3V1124.2H284.3V1141.9H282.3V1134.1H280.3V1125.1H278.3V1158.2H276.3V1126.9H274.3V1141.5H272.3V1140.1H270.3V1131.6H268.3V1170.0H266.3V1170.0H264.3V1099.5H262.3V1125.0H260.3V1125.0H258.3V1138.6H256.3V1123.6H254.3V1107.9H252.3V1143.9H250.3V1143.3H248.3V1135.1H246.3V1128.4H244.3V1143.2H242.3V1128.6H240.3V1117.6H238.3V1125.6H236.3V1137.0H234.3V1137.0H232.3V1147.8H230.3V1173.0H228.3V1133.0H226.3V1107.9H224.3V1092.2H222.3V1100.7H220.3V1116.5H218.3V1081.2H216.3V1083.1H214.3V1106.2H212.3V1106.2H210.3V1114.4H208.3V1114.4H206.3V1109.4H204.3V1109.8H202.3V1086.8H200.3V1147.5H198.3V1104.4H196.3V1090.3H194.3V1124.2H192.3V1080.5H190.3V1080.2H188.3V1060.5H186.3V1074.6H184.3V1135.8H182.3V1135.8H180.3V1083.5H178.3V1077.7H176.3V1091.5H174.3V1091.5H172.3V1065.1H170.3V1070.0H168.3V1118.0H166.3V1048.2H164.3V1071.3H162.3V1071.3H160.3V1037.0H158.3V1073.5H156.3V1060.2H154.3V1060.2H152.3V1075.4H150.3V1040.1H148.3V1027.6H146.3V1022.5H144.3V1016.3H142.3V1028.0H140.3V1033.8H138.3V1010.7H136.3V1016.5H134.3V1008.9H132.3V1034.2H130.3V1034.2H128.3V1020.2H126.3V987.4H124.3V1064.9H122.3V962.5H120.3V1024.7H118.3Z" fill="#000"/>
<g font-family="Liberation Serif, Times New Roman, serif" font-weight="bold" fill="#000">
<text id="t10" x="90.5" y="1329.7" font-size="66" textLength="65.6" lengthAdjust="spacing">10</text>
<text id="t30" x="472.5" y="1329.7" font-size="66" textLength="66.4" lengthAdjust="spacing">30</text>
<text id="t50" x="856.5" y="1329.7" font-size="66" textLength="64.8" lengthAdjust="spacing">50</text>
<text id="t70" x="1236.0" y="1329.7" font-size="66" textLength="67.2" lengthAdjust="spacing">70</text>
<text id="t90" x="1621.0" y="1329.7" font-size="66" textLength="64.8" lengthAdjust="spacing">90</text>
<text id="xt" x="657.0" y="1397.8" font-size="75.5" textLength="449.9" lengthAdjust="spacing">2 Theta (deg.)</text>
<text id="yt" transform="translate(84.0,848.5) rotate(-90)" x="0" y="0" font-size="75.5" textLength="475.7" lengthAdjust="spacing">Intensity (a.u.)</text>
<text id="p002" x="398.5" y="191.3" font-size="45" textLength="99.7" lengthAdjust="spacing">(002)</text>
<text id="p110a" x="742.0" y="447.2" font-size="45" textLength="102.1" lengthAdjust="spacing">(110)</text>
<text id="p200" x="899.5" y="470.5" font-size="45" textLength="101.5" lengthAdjust="spacing">(200)</text>
<text id="p100" x="551.5" y="860.0" font-size="45" textLength="101.9" lengthAdjust="spacing">(100)</text>
<text id="p011" x="630.5" y="1030.0" font-size="45" textLength="101.7" lengthAdjust="spacing">(011)</text>
<text id="p110b" x="1089.5" y="1021.8" font-size="45" textLength="102.5" lengthAdjust="spacing">(110)</text>
<text id="zncds" x="1348.0" y="559.1" font-size="65" textLength="198.1" lengthAdjust="spacing">ZnCdS</text>
<text id="feoohzcs" x="1267.5" y="779.0" font-size="64" textLength="360.4" lengthAdjust="spacing">FeOOH/ZCS</text>
<text id="feooh" x="1344.5" y="1130.1" font-size="65.5" textLength="216.9" lengthAdjust="spacing">FeOOH</text>
</g>
</svg>
</body></html>
